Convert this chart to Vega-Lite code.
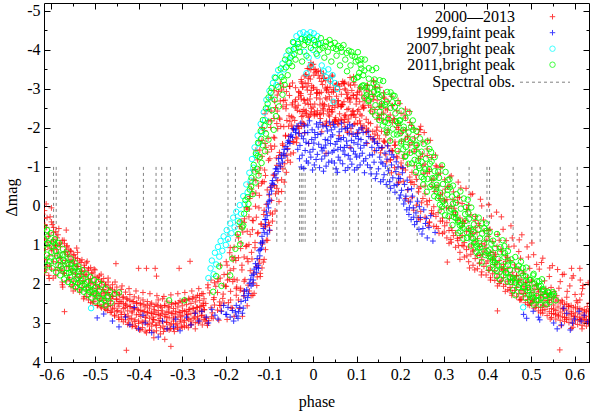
{
"$schema":"https://vega.github.io/schema/vega-lite/v6.json",
"width":545,"height":359,
"autosize":{"type":"none"},
"padding":{"left":44,"top":3,"right":3,"bottom":53},
"background":"white",
"config":{"font":"Liberation Serif","view":{"stroke":null},
"axis":{"grid":false,"domainColor":"black","domainWidth":1,"tickColor":"black","tickWidth":1,"labelFont":"Liberation Serif","labelFontSize":16,"labelColor":"black","titleFont":"Liberation Serif","titleFontSize":16,"titleFontWeight":"normal","titleColor":"black","zindex":1,"labelFlush":false,"labelOverlap":false}},
"resolve":{"axis":{"x":"independent","y":"independent"}},
"datasets":{
"spec":[{"p":-0.595},{"p":-0.589},{"p":-0.535},{"p":-0.491},{"p":-0.473},{"p":-0.428},{"p":-0.389},{"p":-0.36},{"p":-0.347},{"p":-0.327},{"p":-0.195},{"p":-0.178},{"p":-0.083},{"p":-0.064},{"p":-0.031},{"p":-0.027},{"p":-0.023},{"p":-0.018},{"p":0.006},{"p":0.046},{"p":0.053},{"p":0.084},{"p":0.104},{"p":0.134},{"p":0.171},{"p":0.176},{"p":0.192},{"p":0.239},{"p":0.358},{"p":0.399},{"p":0.405},{"p":0.459},{"p":0.502},{"p":0.521},{"p":0.567},{"p":0.606}],
"red":[
{"p":-0.618,"m":0.32},{"p":-0.615,"m":0.85},{"p":-0.619,"m":1.22},{"p":-0.614,"m":1.64},{"p":-0.611,"m":0.55},{"p":-0.608,"m":1.05},{"p":-0.612,"m":1.38},{"p":-0.607,"m":0.78},{"p":-0.603,"m":0.28},{"p":-0.6,"m":0.92},{"p":-0.604,"m":1.52},{"p":-0.599,"m":1.15},{"p":-0.595,"m":0.68},{"p":-0.592,"m":1.28},{"p":-0.596,"m":1.85},{"p":-0.591,"m":1.02},{"p":-0.587,"m":0.82},{"p":-0.584,"m":1.45},{"p":-0.588,"m":1.12},{"p":-0.583,"m":0.58},{"p":-0.579,"m":1.05},{"p":-0.576,"m":1.62},{"p":-0.58,"m":1.32},{"p":-0.575,"m":1.95},{"p":-0.571,"m":0.88},{"p":-0.568,"m":1.4},{"p":-0.572,"m":1.72},{"p":-0.567,"m":1.18},{"p":-0.563,"m":1.25},{"p":-0.56,"m":1.55},{"p":-0.564,"m":1.02},{"p":-0.559,"m":1.88},{"p":-0.555,"m":1.38},{"p":-0.552,"m":1.7},{"p":-0.556,"m":1.15},{"p":-0.551,"m":2.02},{"p":-0.547,"m":1.48},{"p":-0.544,"m":1.82},{"p":-0.548,"m":1.25},{"p":-0.543,"m":1.62},{"p":-0.539,"m":1.55},{"p":-0.536,"m":1.92},{"p":-0.54,"m":1.35},{"p":-0.535,"m":2.15},{"p":-0.531,"m":1.68},{"p":-0.528,"m":1.98},{"p":-0.532,"m":1.45},{"p":-0.527,"m":1.8},{"p":-0.523,"m":1.75},{"p":-0.52,"m":2.08},{"p":-0.524,"m":1.58},{"p":-0.519,"m":2.32},{"p":-0.515,"m":1.88},{"p":-0.512,"m":2.15},{"p":-0.516,"m":1.65},{"p":-0.511,"m":1.98},{"p":-0.507,"m":1.95},{"p":-0.504,"m":2.25},{"p":-0.508,"m":1.72},{"p":-0.503,"m":2.45},{"p":-0.499,"m":2.02},{"p":-0.496,"m":2.3},{"p":-0.5,"m":1.82},{"p":-0.495,"m":2.12},{"p":-0.491,"m":2.08},{"p":-0.488,"m":2.38},{"p":-0.492,"m":1.88},{"p":-0.487,"m":2.58},{"p":-0.483,"m":2.15},{"p":-0.48,"m":2.42},{"p":-0.484,"m":1.95},{"p":-0.479,"m":2.25},{"p":-0.475,"m":2.22},{"p":-0.472,"m":2.5},{"p":-0.476,"m":2.02},{"p":-0.471,"m":2.68},{"p":-0.467,"m":2.28},{"p":-0.464,"m":2.55},{"p":-0.468,"m":2.1},{"p":-0.463,"m":2.38},{"p":-0.459,"m":2.32},{"p":-0.456,"m":2.62},{"p":-0.46,"m":2.15},{"p":-0.455,"m":2.8},{"p":-0.451,"m":2.4},{"p":-0.448,"m":2.68},{"p":-0.452,"m":2.22},{"p":-0.447,"m":2.5},{"p":-0.443,"m":2.45},{"p":-0.44,"m":2.72},{"p":-0.444,"m":2.28},{"p":-0.439,"m":2.9},{"p":-0.435,"m":2.5},{"p":-0.432,"m":2.78},{"p":-0.436,"m":2.35},{"p":-0.431,"m":2.6},{"p":-0.427,"m":2.55},{"p":-0.424,"m":2.82},{"p":-0.428,"m":2.38},{"p":-0.423,"m":3.0},{"p":-0.419,"m":2.58},{"p":-0.416,"m":2.88},{"p":-0.42,"m":2.42},{"p":-0.415,"m":2.7},{"p":-0.411,"m":2.62},{"p":-0.408,"m":2.92},{"p":-0.412,"m":2.45},{"p":-0.407,"m":3.08},{"p":-0.403,"m":2.65},{"p":-0.4,"m":2.95},{"p":-0.404,"m":2.48},{"p":-0.399,"m":2.78},{"p":-0.395,"m":2.68},{"p":-0.392,"m":2.98},{"p":-0.396,"m":2.5},{"p":-0.391,"m":3.12},{"p":-0.387,"m":2.7},{"p":-0.384,"m":2.95},{"p":-0.388,"m":2.52},{"p":-0.383,"m":2.82},{"p":-0.379,"m":2.72},{"p":-0.376,"m":3.02},{"p":-0.38,"m":2.55},{"p":-0.375,"m":3.18},{"p":-0.371,"m":2.75},{"p":-0.368,"m":2.98},{"p":-0.372,"m":2.52},{"p":-0.367,"m":2.85},{"p":-0.363,"m":2.72},{"p":-0.36,"m":3.05},{"p":-0.364,"m":2.58},{"p":-0.359,"m":3.2},{"p":-0.355,"m":2.78},{"p":-0.352,"m":3.0},{"p":-0.356,"m":2.55},{"p":-0.351,"m":2.88},{"p":-0.347,"m":2.75},{"p":-0.344,"m":3.08},{"p":-0.348,"m":2.6},{"p":-0.343,"m":3.22},{"p":-0.339,"m":2.78},{"p":-0.336,"m":2.98},{"p":-0.34,"m":2.55},{"p":-0.335,"m":2.85},{"p":-0.331,"m":2.72},{"p":-0.328,"m":3.05},{"p":-0.332,"m":2.58},{"p":-0.327,"m":3.15},{"p":-0.323,"m":2.75},{"p":-0.32,"m":2.95},{"p":-0.324,"m":2.52},{"p":-0.319,"m":2.85},{"p":-0.315,"m":2.7},{"p":-0.312,"m":3.02},{"p":-0.316,"m":2.5},{"p":-0.311,"m":3.12},{"p":-0.307,"m":2.72},{"p":-0.304,"m":2.92},{"p":-0.308,"m":2.48},{"p":-0.303,"m":2.82},{"p":-0.299,"m":2.68},{"p":-0.296,"m":2.98},{"p":-0.3,"m":2.45},{"p":-0.295,"m":3.1},{"p":-0.291,"m":2.7},{"p":-0.288,"m":2.88},{"p":-0.292,"m":2.42},{"p":-0.287,"m":2.78},{"p":-0.283,"m":2.65},{"p":-0.28,"m":2.95},{"p":-0.284,"m":2.4},{"p":-0.279,"m":3.05},{"p":-0.275,"m":2.62},{"p":-0.272,"m":2.85},{"p":-0.276,"m":2.38},{"p":-0.271,"m":2.75},{"p":-0.267,"m":2.6},{"p":-0.264,"m":2.9},{"p":-0.268,"m":2.35},{"p":-0.263,"m":3.0},{"p":-0.259,"m":2.58},{"p":-0.256,"m":2.8},{"p":-0.26,"m":2.3},{"p":-0.255,"m":2.7},{"p":-0.251,"m":2.55},{"p":-0.248,"m":2.85},{"p":-0.252,"m":2.25},{"p":-0.247,"m":2.95},
{"p":-0.62,"m":0.64},{"p":-0.62,"m":1.37},{"p":-0.62,"m":0.21},{"p":-0.615,"m":1.12},{"p":-0.615,"m":0.48},{"p":-0.615,"m":1.71},{"p":-0.61,"m":0.93},{"p":-0.61,"m":1.55},{"p":-0.61,"m":0.3},{"p":-0.605,"m":1.28},{"p":-0.605,"m":0.72},{"p":-0.605,"m":1.86},{"p":-0.6,"m":0.41},{"p":-0.6,"m":1.09},{"p":-0.6,"m":1.62},{"p":-0.595,"m":1.43},{"p":-0.595,"m":0.87},{"p":-0.595,"m":0.55},{"p":-0.59,"m":1.02},{"p":-0.59,"m":1.79},{"p":-0.59,"m":0.66},{"p":-0.585,"m":1.21},{"p":-0.585,"m":0.74},{"p":-0.585,"m":1.58},{"p":-0.58,"m":0.95},{"p":-0.58,"m":1.66},{"p":-0.58,"m":1.34},{"p":-0.575,"m":1.47},{"p":-0.575,"m":0.88},{"p":-0.575,"m":2.02},{"p":-0.57,"m":1.18},{"p":-0.57,"m":1.73},{"p":-0.57,"m":0.97},{"p":-0.565,"m":1.56},{"p":-0.565,"m":1.05},{"p":-0.565,"m":1.92},{"p":-0.56,"m":1.29},{"p":-0.56,"m":1.84},{"p":-0.56,"m":1.11},{"p":-0.555,"m":1.62},{"p":-0.555,"m":1.17},{"p":-0.555,"m":2.07},{"p":-0.55,"m":1.41},{"p":-0.55,"m":1.93},{"p":-0.55,"m":1.26},{"p":-0.545,"m":1.74},{"p":-0.545,"m":1.33},{"p":-0.545,"m":2.12},{"p":-0.54,"m":1.55},{"p":-0.54,"m":2.01},{"p":-0.54,"m":1.19},{"p":-0.535,"m":1.83},{"p":-0.535,"m":1.41},{"p":-0.535,"m":2.21},{"p":-0.53,"m":1.66},{"p":-0.53,"m":2.09},{"p":-0.53,"m":1.38},{"p":-0.525,"m":1.92},{"p":-0.525,"m":1.52},{"p":-0.525,"m":2.33},{"p":-0.52,"m":1.77},{"p":-0.52,"m":2.18},{"p":-0.52,"m":1.46},{"p":-0.515,"m":2.03},{"p":-0.515,"m":1.61},{"p":-0.515,"m":2.41},{"p":-0.51,"m":1.86},{"p":-0.51,"m":2.27},{"p":-0.51,"m":1.58},{"p":-0.505,"m":2.12},{"p":-0.505,"m":1.72},{"p":-0.505,"m":2.49},{"p":-0.5,"m":1.97},{"p":-0.5,"m":2.36},{"p":-0.5,"m":1.64},{"p":-0.495,"m":2.21},{"p":-0.495,"m":1.83},{"p":-0.495,"m":2.55},{"p":-0.49,"m":2.05},{"p":-0.49,"m":2.43},{"p":-0.49,"m":1.79},{"p":-0.485,"m":2.29},{"p":-0.485,"m":1.94},{"p":-0.485,"m":2.61},{"p":-0.48,"m":2.14},{"p":-0.48,"m":2.52},{"p":-0.48,"m":1.86},{"p":-0.475,"m":2.37},{"p":-0.475,"m":2.03},{"p":-0.475,"m":2.66},{"p":-0.47,"m":2.22},{"p":-0.47,"m":2.58},{"p":-0.47,"m":1.95},{"p":-0.465,"m":2.44},{"p":-0.465,"m":2.11},{"p":-0.465,"m":2.73},{"p":-0.46,"m":2.31},{"p":-0.46,"m":2.64},{"p":-0.46,"m":2.02},{"p":-0.455,"m":2.51},{"p":-0.455,"m":2.19},{"p":-0.455,"m":2.82},{"p":-0.45,"m":2.38},{"p":-0.45,"m":2.71},{"p":-0.45,"m":2.08},{"p":-0.445,"m":2.57},{"p":-0.445,"m":2.26},{"p":-0.445,"m":2.91},{"p":-0.44,"m":2.46},{"p":-0.44,"m":2.78},{"p":-0.44,"m":2.14},{"p":-0.435,"m":2.63},{"p":-0.435,"m":2.33},{"p":-0.435,"m":2.97},{"p":-0.43,"m":2.52},{"p":-0.43,"m":2.84},{"p":-0.43,"m":2.21},{"p":-0.425,"m":2.69},{"p":-0.425,"m":2.39},{"p":-0.425,"m":3.04},{"p":-0.42,"m":2.58},{"p":-0.42,"m":2.9},{"p":-0.42,"m":2.27},{"p":-0.415,"m":2.74},{"p":-0.415,"m":2.45},{"p":-0.415,"m":3.09},{"p":-0.41,"m":2.62},{"p":-0.41,"m":2.96},{"p":-0.41,"m":2.33},{"p":-0.405,"m":2.79},{"p":-0.405,"m":2.5},{"p":-0.405,"m":3.13},{"p":-0.4,"m":2.67},{"p":-0.4,"m":3.01},{"p":-0.4,"m":2.36},{"p":-0.395,"m":2.83},{"p":-0.395,"m":2.54},{"p":-0.395,"m":3.17},{"p":-0.39,"m":2.71},{"p":-0.39,"m":2.98},{"p":-0.39,"m":2.41},{"p":-0.385,"m":2.86},{"p":-0.385,"m":2.59},{"p":-0.385,"m":3.21},{"p":-0.38,"m":2.73},{"p":-0.38,"m":3.04},{"p":-0.38,"m":2.45},{"p":-0.375,"m":2.88},{"p":-0.375,"m":2.62},{"p":-0.375,"m":3.19},{"p":-0.37,"m":2.76},{"p":-0.37,"m":2.49},{"p":-0.37,"m":3.08},{"p":-0.365,"m":2.91},{"p":-0.365,"m":2.66},{"p":-0.365,"m":3.23},{"p":-0.36,"m":2.78},{"p":-0.36,"m":2.52},{"p":-0.36,"m":3.06},{"p":-0.355,"m":2.94},{"p":-0.355,"m":2.68},{"p":-0.355,"m":2.41},{"p":-0.35,"m":2.81},{"p":-0.35,"m":3.12},{"p":-0.35,"m":2.57},{"p":-0.345,"m":2.69},{"p":-0.345,"m":2.96},{"p":-0.345,"m":2.38},{"p":-0.34,"m":2.84},{"p":-0.34,"m":3.15},{"p":-0.34,"m":2.55},{"p":-0.335,"m":2.72},{"p":-0.335,"m":2.99},{"p":-0.335,"m":2.44},{"p":-0.33,"m":2.87},{"p":-0.33,"m":2.61},{"p":-0.33,"m":3.18},{"p":-0.325,"m":2.75},{"p":-0.325,"m":3.02},{"p":-0.325,"m":2.48},{"p":-0.32,"m":2.9},{"p":-0.32,"m":2.63},{"p":-0.32,"m":3.14},{"p":-0.315,"m":2.77},{"p":-0.315,"m":2.51},{"p":-0.315,"m":3.05},{"p":-0.31,"m":2.85},{"p":-0.31,"m":2.59},{"p":-0.31,"m":3.16},{"p":-0.305,"m":2.73},{"p":-0.305,"m":2.97},{"p":-0.305,"m":2.43},{"p":-0.3,"m":2.82},{"p":-0.3,"m":2.56},{"p":-0.3,"m":3.11},{"p":-0.295,"m":2.7},{"p":-0.295,"m":2.94},{"p":-0.295,"m":2.4},{"p":-0.29,"m":2.79},{"p":-0.29,"m":2.53},{"p":-0.29,"m":3.07},{"p":-0.285,"m":2.66},{"p":-0.285,"m":2.91},{"p":-0.285,"m":2.37},{"p":-0.28,"m":2.76},{"p":-0.28,"m":2.5},{"p":-0.28,"m":3.03},{"p":-0.275,"m":2.63},{"p":-0.275,"m":2.88},{"p":-0.275,"m":2.33},{"p":-0.27,"m":2.72},{"p":-0.27,"m":2.46},{"p":-0.27,"m":2.99},{"p":-0.265,"m":2.6},{"p":-0.265,"m":2.84},{"p":-0.265,"m":2.29},{"p":-0.26,"m":2.69},{"p":-0.26,"m":2.42},{"p":-0.26,"m":2.95},{"p":-0.255,"m":2.56},{"p":-0.255,"m":2.81},{"p":-0.255,"m":2.25},{"p":-0.25,"m":2.66},{"p":-0.25,"m":2.38},{"p":-0.25,"m":2.91},
{"p":-0.616,"m":0.12},{"p":-0.606,"m":1.78},{"p":-0.598,"m":0.48},{"p":-0.59,"m":1.65},{"p":-0.582,"m":0.98},{"p":-0.574,"m":2.08},{"p":-0.566,"m":0.62},{"p":-0.558,"m":1.45},{"p":-0.55,"m":2.18},{"p":-0.542,"m":1.08},{"p":-0.534,"m":1.75},{"p":-0.526,"m":2.38},{"p":-0.518,"m":1.42},{"p":-0.51,"m":2.48},{"p":-0.502,"m":1.62},{"p":-0.494,"m":2.55},{"p":-0.486,"m":1.75},{"p":-0.478,"m":2.62},{"p":-0.47,"m":1.85},{"p":-0.462,"m":2.72},{"p":-0.454,"m":1.95},{"p":-0.446,"m":2.85},{"p":-0.438,"m":2.05},{"p":-0.43,"m":2.92},{"p":-0.422,"m":2.12},{"p":-0.414,"m":3.05},{"p":-0.406,"m":2.18},{"p":-0.398,"m":3.18},{"p":-0.39,"m":2.22},{"p":-0.382,"m":3.25},{"p":-0.374,"m":2.25},{"p":-0.366,"m":2.92},{"p":-0.358,"m":2.3},{"p":-0.35,"m":3.28},{"p":-0.342,"m":2.32},{"p":-0.334,"m":3.15},{"p":-0.326,"m":2.28},{"p":-0.318,"m":3.22},{"p":-0.31,"m":2.25},{"p":-0.302,"m":3.08},{"p":-0.294,"m":2.22},{"p":-0.286,"m":3.12},{"p":-0.278,"m":2.18},{"p":-0.27,"m":3.15},{"p":-0.262,"m":2.12},{"p":-0.254,"m":3.05},
{"p":-0.57,"m":2.71},{"p":-0.452,"m":1.48},{"p":-0.4,"m":1.6},{"p":-0.382,"m":1.6},{"p":-0.362,"m":1.6},{"p":-0.359,"m":1.8},{"p":-0.307,"m":1.6},{"p":-0.282,"m":1.42},{"p":-0.428,"m":3.7},{"p":-0.326,"m":3.6},{"p":-0.34,"m":3.42},{"p":-0.365,"m":3.38},{"p":-0.612,"m":-0.05},{"p":-0.6,"m":0.05},
{"p":-0.241,"m":2.02},{"p":-0.246,"m":2.5},{"p":-0.249,"m":2.66},{"p":-0.242,"m":3.06},{"p":-0.243,"m":3.01},{"p":-0.241,"m":2.1},{"p":-0.237,"m":2.23},{"p":-0.234,"m":2.61},{"p":-0.239,"m":2.94},{"p":-0.234,"m":1.9},{"p":-0.227,"m":2.35},{"p":-0.228,"m":2.4},{"p":-0.233,"m":2.84},{"p":-0.229,"m":2.88},{"p":-0.218,"m":1.87},{"p":-0.223,"m":2.06},{"p":-0.226,"m":2.54},{"p":-0.219,"m":2.67},{"p":-0.213,"m":1.85},{"p":-0.218,"m":1.94},{"p":-0.214,"m":2.46},{"p":-0.211,"m":2.55},{"p":-0.216,"m":2.93},{"p":-0.212,"m":1.52},{"p":-0.205,"m":2.03},{"p":-0.206,"m":2.26},{"p":-0.211,"m":2.69},{"p":-0.199,"m":1.43},{"p":-0.196,"m":1.9},{"p":-0.201,"m":2.06},{"p":-0.204,"m":2.49},{"p":-0.197,"m":2.91},{"p":-0.191,"m":1.2},{"p":-0.196,"m":1.75},{"p":-0.192,"m":1.88},{"p":-0.189,"m":2.41},{"p":-0.194,"m":2.48},{"p":-0.19,"m":1.07},{"p":-0.183,"m":1.39},{"p":-0.184,"m":1.94},{"p":-0.189,"m":2.19},{"p":-0.185,"m":2.62},{"p":-0.174,"m":0.74},{"p":-0.179,"m":1.33},{"p":-0.182,"m":1.61},{"p":-0.175,"m":2.08},{"p":-0.176,"m":2.29},{"p":-0.181,"m":2.83},{"p":-0.169,"m":0.53},{"p":-0.166,"m":1.09},{"p":-0.171,"m":1.33},{"p":-0.174,"m":1.9},{"p":-0.167,"m":2.16},{"p":-0.168,"m":2.63},{"p":-0.165,"m":0.39},{"p":-0.161,"m":0.67},{"p":-0.158,"m":1.31},{"p":-0.163,"m":1.52},{"p":-0.166,"m":2.11},{"p":-0.159,"m":2.31},{"p":-0.153,"m":0.04},{"p":-0.158,"m":0.42},{"p":-0.154,"m":1.04},{"p":-0.151,"m":1.35},{"p":-0.156,"m":1.89},{"p":-0.159,"m":2.19},{"p":-0.145,"m":-0.24},{"p":-0.146,"m":0.08},{"p":-0.151,"m":0.65},{"p":-0.147,"m":0.99},{"p":-0.144,"m":1.66},{"p":-0.149,"m":2.03},{"p":-0.145,"m":-0.56},{"p":-0.138,"m":-0.31},{"p":-0.139,"m":0.37},{"p":-0.144,"m":0.73},{"p":-0.14,"m":1.36},{"p":-0.137,"m":1.97},{"p":-0.142,"m":2.3},{"p":-0.138,"m":-0.92},{"p":-0.131,"m":-0.65},{"p":-0.132,"m":0.01},{"p":-0.137,"m":0.38},{"p":-0.133,"m":1.07},{"p":-0.13,"m":1.56},{"p":-0.135,"m":2.24},{"p":-0.131,"m":-1.43},{"p":-0.124,"m":-0.83},{"p":-0.125,"m":-0.51},{"p":-0.13,"m":0.29},{"p":-0.126,"m":0.68},{"p":-0.123,"m":1.38},{"p":-0.128,"m":1.82},{"p":-0.124,"m":-1.67},{"p":-0.117,"m":-1.27},{"p":-0.118,"m":-0.58},{"p":-0.123,"m":-0.27},{"p":-0.119,"m":0.47},{"p":-0.116,"m":0.93},{"p":-0.121,"m":1.73},{"p":-0.117,"m":-2.01},{"p":-0.11,"m":-1.6},{"p":-0.111,"m":-0.92},{"p":-0.116,"m":-0.62},{"p":-0.112,"m":0.11},{"p":-0.109,"m":0.54},{"p":-0.114,"m":1.44},{"p":-0.11,"m":-2.36},{"p":-0.103,"m":-1.73},{"p":-0.104,"m":-1.38},{"p":-0.109,"m":-0.78},{"p":-0.105,"m":-0.41},{"p":-0.102,"m":0.43},{"p":-0.107,"m":0.88},{"p":-0.103,"m":-2.47},{"p":-0.096,"m":-2.18},{"p":-0.097,"m":-1.54},{"p":-0.102,"m":-1.17},{"p":-0.098,"m":-0.48},{"p":-0.095,"m":-0.14},{"p":-0.1,"m":0.5},{"p":-0.096,"m":-2.77},{"p":-0.089,"m":-2.24},{"p":-0.09,"m":-1.76},{"p":-0.095,"m":-1.45},{"p":-0.091,"m":-0.79},{"p":-0.088,"m":-0.52},{"p":-0.093,"m":0.21},{"p":-0.089,"m":-2.96},{"p":-0.082,"m":-2.43},{"p":-0.083,"m":-2.11},{"p":-0.088,"m":-1.53},{"p":-0.084,"m":-1.23},{"p":-0.081,"m":-0.65},{"p":-0.086,"m":-0.31},{"p":-0.082,"m":-2.84},{"p":-0.075,"m":-2.69},{"p":-0.076,"m":-2.22},{"p":-0.081,"m":-1.98},{"p":-0.077,"m":-1.37},{"p":-0.074,"m":-1.02},{"p":-0.079,"m":-0.36},{"p":-0.075,"m":-3.14},{"p":-0.068,"m":-2.7},{"p":-0.069,"m":-2.54},{"p":-0.074,"m":-2.04},{"p":-0.07,"m":-1.59},{"p":-0.067,"m":-1.3},{"p":-0.072,"m":-0.67},{"p":-0.068,"m":-3.05},{"p":-0.061,"m":-2.59},{"p":-0.062,"m":-2.49},{"p":-0.067,"m":-2.03},{"p":-0.063,"m":-1.81},{"p":-0.06,"m":-1.3},{"p":-0.065,"m":-1.08},{"p":-0.061,"m":-2.93},{"p":-0.054,"m":-2.83},{"p":-0.055,"m":-2.31},{"p":-0.06,"m":-2.19},{"p":-0.056,"m":-1.79},{"p":-0.053,"m":-1.65},{"p":-0.058,"m":-1.17},{"p":-0.054,"m":-3.07},{"p":-0.047,"m":-2.64},{"p":-0.048,"m":-2.59},{"p":-0.053,"m":-2.17},{"p":-0.049,"m":-2.07},{"p":-0.046,"m":-1.64},{"p":-0.051,"m":-1.33},{"p":-0.047,"m":-3.15},{"p":-0.04,"m":-2.72},{"p":-0.041,"m":-2.68},{"p":-0.046,"m":-2.26},{"p":-0.042,"m":-2.19},{"p":-0.039,"m":-1.76},{"p":-0.044,"m":-1.64},{"p":-0.04,"m":-3.03},{"p":-0.033,"m":-2.93},{"p":-0.034,"m":-2.58},{"p":-0.039,"m":-2.51},{"p":-0.035,"m":-2.04},{"p":-0.032,"m":-1.99},{"p":-0.037,"m":-1.72},
{"p":-0.231,"m":2.74},{"p":-0.188,"m":2.61},{"p":-0.162,"m":2.83},{"p":-0.252,"m":2.49},{"p":-0.207,"m":2.37},{"p":-0.151,"m":2.56},{"p":-0.219,"m":2.22},{"p":-0.176,"m":2.12},{"p":-0.138,"m":2.29},{"p":-0.226,"m":1.97},{"p":-0.181,"m":1.88},{"p":-0.129,"m":2.04},{"p":-0.204,"m":1.76},{"p":-0.163,"m":1.64},{"p":-0.121,"m":1.81},{"p":-0.197,"m":1.52},{"p":-0.149,"m":1.43},{"p":-0.117,"m":1.59},{"p":-0.186,"m":1.31},{"p":-0.141,"m":1.19},{"p":-0.112,"m":1.37},{"p":-0.181,"m":1.06},{"p":-0.133,"m":0.94},{"p":-0.109,"m":1.12},{"p":-0.171,"m":0.82},{"p":-0.127,"m":0.71},{"p":-0.104,"m":0.88},{"p":-0.163,"m":0.57},{"p":-0.119,"m":0.46},{"p":-0.099,"m":0.63},{"p":-0.157,"m":0.33},{"p":-0.113,"m":0.22},{"p":-0.093,"m":0.39},{"p":-0.151,"m":0.08},{"p":-0.107,"m":-0.04},{"p":-0.087,"m":0.13},{"p":-0.145,"m":-0.19},{"p":-0.101,"m":-0.28},{"p":-0.078,"m":-0.11},{"p":-0.141,"m":-0.43},{"p":-0.094,"m":-0.52},{"p":-0.072,"m":-0.37},{"p":-0.136,"m":-0.68},{"p":-0.089,"m":-0.79},{"p":-0.066,"m":-0.61},{"p":-0.132,"m":-0.93},{"p":-0.083,"m":-1.04},{"p":-0.061,"m":-0.86},{"p":-0.127,"m":-1.18},{"p":-0.076,"m":-1.29},{"p":-0.052,"m":-1.12},{"p":-0.122,"m":-1.43},{"p":-0.069,"m":-1.55},{"p":-0.045,"m":-1.36},{"p":-0.117,"m":-1.68},{"p":-0.063,"m":-1.79},{"p":-0.038,"m":-1.62},{"p":-0.111,"m":-1.93},{"p":-0.056,"m":-2.04},{"p":-0.031,"m":-1.86},{"p":-0.103,"m":-2.18},{"p":-0.049,"m":-2.29},{"p":-0.022,"m":-2.11},{"p":-0.096,"m":-2.43},{"p":-0.041,"m":-2.54},{"p":-0.015,"m":-2.36},{"p":-0.088,"m":-2.68},{"p":-0.033,"m":-2.79},{"p":-0.006,"m":-2.61},{"p":-0.079,"m":-2.93},{"p":-0.024,"m":-3.04},{"p":-0.011,"m":-3.27},{"p":-0.005,"m":-3.49},
{"p":-0.244,"m":2.88},{"p":-0.214,"m":2.55},{"p":-0.171,"m":2.41},{"p":-0.146,"m":2.18},{"p":-0.199,"m":2.06},{"p":-0.158,"m":1.93},{"p":-0.136,"m":1.72},{"p":-0.19,"m":1.65},{"p":-0.124,"m":1.48},{"p":-0.177,"m":1.4},{"p":-0.152,"m":1.02},{"p":-0.116,"m":0.98},{"p":-0.165,"m":0.95},{"p":-0.139,"m":0.61},{"p":-0.111,"m":0.52},{"p":-0.147,"m":0.28},{"p":-0.124,"m":0.05},{"p":-0.098,"m":0.18},{"p":-0.131,"m":-0.33},{"p":-0.112,"m":-0.62},{"p":-0.083,"m":-0.45},{"p":-0.121,"m":-0.97},{"p":-0.099,"m":-1.21},{"p":-0.069,"m":-0.95},{"p":-0.108,"m":-1.5},{"p":-0.088,"m":-1.74},{"p":-0.058,"m":-1.47},{"p":-0.097,"m":-2.01},{"p":-0.077,"m":-2.25},{"p":-0.047,"m":-1.98},{"p":-0.086,"m":-2.52},{"p":-0.064,"m":-2.71},{"p":-0.036,"m":-2.45},{"p":-0.072,"m":-2.97},{"p":-0.053,"m":-3.06},{"p":-0.028,"m":-2.88},
{"p":-0.027,"m":-3.24},{"p":-0.032,"m":-2.91},{"p":-0.028,"m":-2.83},{"p":-0.025,"m":-2.42},{"p":-0.03,"m":-2.42},{"p":-0.033,"m":-2.04},{"p":-0.026,"m":-2.04},{"p":-0.02,"m":-3.33},{"p":-0.025,"m":-3.14},{"p":-0.021,"m":-2.73},{"p":-0.018,"m":-2.63},{"p":-0.023,"m":-2.31},{"p":-0.026,"m":-2.29},{"p":-0.019,"m":-1.87},{"p":-0.013,"m":-3.52},{"p":-0.018,"m":-3.15},{"p":-0.014,"m":-3.05},{"p":-0.011,"m":-2.6},{"p":-0.016,"m":-2.44},{"p":-0.019,"m":-2.08},{"p":-0.005,"m":-3.67},{"p":-0.006,"m":-3.25},{"p":-0.011,"m":-3.14},{"p":-0.007,"m":-2.74},{"p":-0.004,"m":-2.41},{"p":-0.009,"m":-2.3},{"p":-0.005,"m":-3.59},{"p":0.002,"m":-3.5},{"p":0.001,"m":-3.04},{"p":-0.004,"m":-2.96},{"p":0.0,"m":-2.53},{"p":0.003,"m":-2.36},{"p":0.005,"m":-3.5},{"p":0.002,"m":-3.35},{"p":0.009,"m":-2.98},{"p":0.008,"m":-2.89},{"p":0.003,"m":-2.41},{"p":0.007,"m":-2.35},{"p":0.017,"m":-3.45},{"p":0.012,"m":-3.35},{"p":0.009,"m":-2.9},{"p":0.016,"m":-2.74},{"p":0.015,"m":-2.34},{"p":0.01,"m":-2.34},{"p":0.021,"m":-3.33},{"p":0.024,"m":-3.27},{"p":0.019,"m":-2.91},{"p":0.016,"m":-2.59},{"p":0.023,"m":-2.5},{"p":0.022,"m":-2.09},{"p":0.024,"m":-3.4},{"p":0.028,"m":-3.02},{"p":0.031,"m":-2.99},{"p":0.026,"m":-2.6},{"p":0.023,"m":-2.46},{"p":0.03,"m":-2.06},{"p":0.036,"m":-3.28},{"p":0.031,"m":-2.95},{"p":0.035,"m":-2.91},{"p":0.038,"m":-2.47},{"p":0.033,"m":-2.43},{"p":0.03,"m":-2.12},{"p":0.044,"m":-3.35},{"p":0.043,"m":-2.92},{"p":0.038,"m":-2.8},{"p":0.042,"m":-2.41},{"p":0.045,"m":-2.41},{"p":0.04,"m":-2.07},{"p":0.044,"m":-3.32},{"p":0.051,"m":-2.97},{"p":0.05,"m":-2.66},{"p":0.045,"m":-2.57},{"p":0.049,"m":-2.17},{"p":0.052,"m":-2.2},{"p":0.054,"m":-3.12},{"p":0.051,"m":-3.09},{"p":0.058,"m":-2.7},{"p":0.057,"m":-2.56},{"p":0.052,"m":-2.16},{"p":0.056,"m":-2.11},{"p":0.066,"m":-3.13},{"p":0.061,"m":-3.07},{"p":0.058,"m":-2.61},{"p":0.065,"m":-2.55},{"p":0.064,"m":-2.22},{"p":0.059,"m":-2.18},{"p":0.07,"m":-3.14},{"p":0.073,"m":-3.0},{"p":0.068,"m":-2.6},{"p":0.065,"m":-2.59},{"p":0.072,"m":-2.21},{"p":0.071,"m":-2.14},{"p":0.073,"m":-3.17},{"p":0.077,"m":-2.86},{"p":0.08,"m":-2.75},{"p":0.075,"m":-2.33},{"p":0.072,"m":-2.32},{"p":0.079,"m":-1.92},{"p":0.085,"m":-3.29},{"p":0.08,"m":-2.9},{"p":0.084,"m":-2.74},{"p":0.087,"m":-2.32},{"p":0.082,"m":-2.23},{"p":0.079,"m":-1.88},{"p":0.093,"m":-3.31},{"p":0.092,"m":-2.84},{"p":0.087,"m":-2.77},{"p":0.091,"m":-2.42},{"p":0.094,"m":-2.33},{"p":0.089,"m":-1.84},{"p":0.093,"m":-3.17},{"p":0.1,"m":-2.76},{"p":0.099,"m":-2.74},{"p":0.094,"m":-2.35},{"p":0.098,"m":-2.27},{"p":0.101,"m":-1.87},
{"p":-0.023,"m":-3.05},{"p":-0.027,"m":-2.74},{"p":-0.025,"m":-2.15},{"p":-0.016,"m":-3.36},{"p":-0.02,"m":-2.71},{"p":-0.018,"m":-2.38},{"p":-0.009,"m":-3.33},{"p":-0.013,"m":-2.97},{"p":-0.011,"m":-2.27},{"p":-0.002,"m":-3.62},{"p":-0.006,"m":-2.86},{"p":-0.004,"m":-2.5},{"p":0.005,"m":-3.41},{"p":0.001,"m":-3.02},{"p":0.003,"m":-2.31},{"p":0.012,"m":-3.46},{"p":0.008,"m":-2.77},{"p":0.01,"m":-2.44},{"p":0.019,"m":-3.19},{"p":0.015,"m":-2.89},{"p":0.017,"m":-2.24},{"p":0.026,"m":-3.27},{"p":0.022,"m":-2.63},{"p":0.024,"m":-2.36},{"p":0.033,"m":-3.04},{"p":0.029,"m":-2.77},{"p":0.031,"m":-2.17},{"p":0.04,"m":-3.18},{"p":0.036,"m":-2.56},{"p":0.038,"m":-2.3},{"p":0.047,"m":-2.99},{"p":0.043,"m":-2.71},{"p":0.045,"m":-2.13},{"p":0.054,"m":-3.13},{"p":0.05,"m":-2.52},{"p":0.052,"m":-2.26},{"p":0.061,"m":-2.98},{"p":0.057,"m":-2.69},{"p":0.059,"m":-2.09},{"p":0.068,"m":-3.19},{"p":0.064,"m":-2.54},{"p":0.066,"m":-2.2},{"p":0.075,"m":-2.97},{"p":0.071,"m":-2.67},{"p":0.073,"m":-2.03},{"p":0.082,"m":-3.12},{"p":0.078,"m":-2.47},{"p":0.08,"m":-2.15},{"p":0.089,"m":-2.96},{"p":0.085,"m":-2.66},{"p":0.087,"m":-1.98},{"p":0.096,"m":-3.1},{"p":0.092,"m":-2.44},{"p":0.094,"m":-2.09},
{"p":-0.027,"m":-3.18},{"p":-0.021,"m":-2.47},{"p":-0.017,"m":-3.36},{"p":-0.013,"m":-2.71},{"p":-0.009,"m":-3.52},{"p":-0.006,"m":-2.34},{"p":-0.003,"m":-3.08},{"p":0.001,"m":-3.63},{"p":0.004,"m":-2.61},{"p":0.008,"m":-3.44},{"p":0.011,"m":-2.89},{"p":0.015,"m":-3.27},{"p":0.018,"m":-2.38},{"p":0.022,"m":-3.11},{"p":0.025,"m":-2.56},{"p":0.029,"m":-3.21},{"p":0.032,"m":-2.74},{"p":0.036,"m":-2.33},{"p":0.039,"m":-3.04},{"p":0.043,"m":-2.47},{"p":0.047,"m":-2.92},{"p":0.05,"m":-2.21},{"p":0.054,"m":-2.81},{"p":0.058,"m":-3.12},{"p":0.061,"m":-2.36},{"p":0.065,"m":-2.86},{"p":0.068,"m":-2.59},{"p":0.072,"m":-3.14},{"p":0.075,"m":-2.28},{"p":0.079,"m":-2.77},{"p":0.082,"m":-2.49},{"p":0.086,"m":-3.09},{"p":0.089,"m":-2.34},{"p":0.093,"m":-2.83},{"p":0.096,"m":-2.11},{"p":0.099,"m":-2.61},
{"p":-0.01,"m":-1.6},{"p":0.03,"m":-1.35},{"p":0.06,"m":-1.8},{"p":0.085,"m":-1.5},{"p":0.02,"m":-1.9},
{"p":0.106,"m":-2.94},{"p":0.101,"m":-2.85},{"p":0.105,"m":-2.47},{"p":0.108,"m":-2.35},{"p":0.103,"m":-1.87},{"p":0.108,"m":-3.0},{"p":0.115,"m":-2.58},{"p":0.114,"m":-2.54},{"p":0.109,"m":-2.1},{"p":0.113,"m":-2.0},{"p":0.124,"m":-3.09},{"p":0.119,"m":-2.69},{"p":0.116,"m":-2.5},{"p":0.123,"m":-1.99},{"p":0.122,"m":-1.9},{"p":0.125,"m":-3.09},{"p":0.129,"m":-2.94},{"p":0.132,"m":-2.43},{"p":0.127,"m":-2.14},{"p":0.124,"m":-1.6},{"p":0.139,"m":-3.21},{"p":0.138,"m":-2.73},{"p":0.133,"m":-2.53},{"p":0.137,"m":-1.91},{"p":0.14,"m":-1.72},{"p":0.143,"m":-3.02},{"p":0.14,"m":-2.81},{"p":0.147,"m":-2.22},{"p":0.146,"m":-1.94},{"p":0.141,"m":-1.41},{"p":0.153,"m":-3.04},{"p":0.156,"m":-2.53},{"p":0.151,"m":-2.32},{"p":0.148,"m":-1.81},{"p":0.155,"m":-1.36},{"p":0.162,"m":-2.9},{"p":0.157,"m":-2.35},{"p":0.161,"m":-2.2},{"p":0.164,"m":-1.66},{"p":0.159,"m":-1.49},{"p":0.164,"m":-2.76},{"p":0.171,"m":-2.46},{"p":0.17,"m":-1.88},{"p":0.165,"m":-1.63},{"p":0.169,"m":-1.13},{"p":0.18,"m":-2.81},{"p":0.175,"m":-2.19},{"p":0.172,"m":-1.95},{"p":0.179,"m":-1.42},{"p":0.178,"m":-1.18},{"p":0.181,"m":-2.57},{"p":0.185,"m":-2.24},{"p":0.188,"m":-1.64},{"p":0.183,"m":-1.41},{"p":0.18,"m":-0.85},{"p":0.195,"m":-2.7},{"p":0.194,"m":-2.11},{"p":0.189,"m":-1.56},{"p":0.193,"m":-1.23},{"p":0.196,"m":-0.59},{"p":0.199,"m":-2.62},{"p":0.196,"m":-1.96},{"p":0.203,"m":-1.66},{"p":0.202,"m":-1.0},{"p":0.197,"m":-0.61},{"p":0.211,"m":-2.33},{"p":0.214,"m":-1.95},{"p":0.209,"m":-1.31},{"p":0.206,"m":-0.96},{"p":0.213,"m":-0.19},{"p":0.222,"m":-2.42},{"p":0.217,"m":-1.77},{"p":0.221,"m":-1.38},{"p":0.224,"m":-0.6},{"p":0.219,"m":-0.12},{"p":0.226,"m":-2.06},{"p":0.233,"m":-1.74},{"p":0.232,"m":-1.03},{"p":0.227,"m":-0.62},{"p":0.231,"m":0.11},{"p":0.244,"m":-1.96},{"p":0.239,"m":-1.55},{"p":0.236,"m":-0.79},{"p":0.243,"m":-0.45},{"p":0.242,"m":0.31},{"p":0.247,"m":-2.04},{"p":0.251,"m":-1.33},{"p":0.254,"m":-0.84},{"p":0.249,"m":-0.08},{"p":0.246,"m":0.35},{"p":0.263,"m":-1.68},{"p":0.262,"m":-1.29},{"p":0.257,"m":-0.51},{"p":0.261,"m":-0.12},{"p":0.264,"m":0.51},{"p":0.269,"m":-1.68},{"p":0.266,"m":-0.94},{"p":0.273,"m":-0.5},{"p":0.272,"m":0.19},{"p":0.267,"m":0.43},{"p":0.281,"m":-1.3},{"p":0.284,"m":-1.0},{"p":0.279,"m":-0.37},{"p":0.276,"m":0.21},{"p":0.283,"m":0.53},{"p":0.292,"m":-0.99},{"p":0.287,"m":-0.8},{"p":0.291,"m":-0.19},{"p":0.294,"m":0.08},{"p":0.289,"m":0.7},{"p":0.296,"m":-1.01},{"p":0.303,"m":-0.43},{"p":0.302,"m":-0.15},{"p":0.297,"m":0.39},{"p":0.301,"m":0.67},{"p":0.314,"m":-0.74},{"p":0.309,"m":-0.49},{"p":0.306,"m":0.05},{"p":0.313,"m":0.32},{"p":0.312,"m":0.96},{"p":0.317,"m":-0.77},{"p":0.321,"m":-0.16},{"p":0.324,"m":0.06},{"p":0.319,"m":0.63},{"p":0.316,"m":0.86},{"p":0.333,"m":-0.61},{"p":0.332,"m":-0.09},{"p":0.327,"m":0.23},{"p":0.331,"m":0.83},{"p":0.334,"m":1.02},{"p":0.339,"m":-0.46},{"p":0.336,"m":-0.22},{"p":0.343,"m":0.4},{"p":0.342,"m":0.76},{"p":0.337,"m":1.37},{"p":0.351,"m":-0.45},{"p":0.354,"m":0.09},{"p":0.349,"m":0.37},{"p":0.346,"m":1.03},{"p":0.353,"m":1.28},{"p":0.362,"m":-0.29},{"p":0.357,"m":-0.01},{"p":0.361,"m":0.66},{"p":0.364,"m":1.0},{"p":0.359,"m":1.59},{"p":0.366,"m":-0.31},{"p":0.373,"m":0.27},{"p":0.372,"m":0.56},{"p":0.367,"m":1.13},{"p":0.371,"m":1.64},{"p":0.384,"m":-0.17},{"p":0.379,"m":0.45},{"p":0.376,"m":0.68},{"p":0.383,"m":1.26},{"p":0.382,"m":1.48},{"p":0.387,"m":0.0},{"p":0.391,"m":0.36},{"p":0.394,"m":1.0},{"p":0.389,"m":1.25},{"p":0.386,"m":1.77},{"p":0.403,"m":-0.03},{"p":0.402,"m":0.63},{"p":0.397,"m":0.88},{"p":0.401,"m":1.41},{"p":0.404,"m":1.65},{"p":0.409,"m":0.26},{"p":0.406,"m":0.6},{"p":0.413,"m":1.19},{"p":0.412,"m":1.36},{"p":0.407,"m":1.9},{"p":0.421,"m":0.16},{"p":0.424,"m":0.73},{"p":0.419,"m":1.24},{"p":0.416,"m":1.5},{"p":0.423,"m":2.05},{"p":0.432,"m":0.28},{"p":0.427,"m":0.88},{"p":0.431,"m":1.11},{"p":0.434,"m":1.64},{"p":0.429,"m":1.94},{"p":0.436,"m":0.6},{"p":0.443,"m":0.89},{"p":0.442,"m":1.42},{"p":0.437,"m":1.61},{"p":0.441,"m":2.19},{"p":0.454,"m":0.51},{"p":0.449,"m":1.05},{"p":0.446,"m":1.32},{"p":0.453,"m":1.9},{"p":0.452,"m":2.16},{"p":0.457,"m":0.82},{"p":0.461,"m":1.03},{"p":0.464,"m":1.6},{"p":0.459,"m":1.8},{"p":0.456,"m":2.29},{"p":0.473,"m":0.87},{"p":0.472,"m":1.17},{"p":0.467,"m":1.78},{"p":0.471,"m":1.92},{"p":0.474,"m":2.41},{"p":0.479,"m":0.74},{"p":0.476,"m":1.34},{"p":0.483,"m":1.69},{"p":0.482,"m":2.24},{"p":0.477,"m":2.39},{"p":0.491,"m":1.05},{"p":0.494,"m":1.31},{"p":0.489,"m":1.96},{"p":0.486,"m":2.13},{"p":0.493,"m":2.53},{"p":0.502,"m":0.95},{"p":0.497,"m":1.6},{"p":0.501,"m":1.9},{"p":0.504,"m":2.42},{"p":0.499,"m":2.49},{"p":0.506,"m":1.25},{"p":0.513,"m":1.5},{"p":0.512,"m":2.01},{"p":0.507,"m":2.44},{"p":0.511,"m":2.6},{"p":0.524,"m":1.45},{"p":0.519,"m":1.62},{"p":0.516,"m":2.14},{"p":0.523,"m":2.28},{"p":0.522,"m":2.74},{"p":0.527,"m":1.34},{"p":0.531,"m":1.92},{"p":0.534,"m":2.12},{"p":0.529,"m":2.55},{"p":0.526,"m":2.67},{"p":0.543,"m":1.59},{"p":0.542,"m":1.81},{"p":0.537,"m":2.25},{"p":0.541,"m":2.42},{"p":0.544,"m":2.9},{"p":0.549,"m":1.53},{"p":0.546,"m":2.09},{"p":0.553,"m":2.19},{"p":0.552,"m":2.65},{"p":0.547,"m":2.76},{"p":0.561,"m":1.63},{"p":0.564,"m":2.11},{"p":0.559,"m":2.3},{"p":0.556,"m":2.78},{"p":0.563,"m":2.82},{"p":0.572,"m":1.76},{"p":0.567,"m":1.94},{"p":0.571,"m":2.42},{"p":0.574,"m":2.64},{"p":0.569,"m":3.07},{"p":0.576,"m":1.75},{"p":0.583,"m":2.19},{"p":0.582,"m":2.34},{"p":0.577,"m":2.86},{"p":0.581,"m":2.91},{"p":0.594,"m":1.85},{"p":0.589,"m":2.05},{"p":0.586,"m":2.58},{"p":0.593,"m":2.76},{"p":0.592,"m":3.14},{"p":0.597,"m":1.79},{"p":0.601,"m":2.27},{"p":0.604,"m":2.43},{"p":0.599,"m":2.83},{"p":0.596,"m":3.11},{"p":0.613,"m":1.9},{"p":0.612,"m":2.41},{"p":0.607,"m":2.48},{"p":0.611,"m":2.91},{"p":0.614,"m":2.91},{"p":0.619,"m":2.04},{"p":0.616,"m":2.26},{"p":0.623,"m":2.74},{"p":0.622,"m":2.85},{"p":0.617,"m":3.15},{"p":0.631,"m":1.97},{"p":0.634,"m":2.49},{"p":0.629,"m":2.58},{"p":0.626,"m":2.93},{"p":0.633,"m":2.97},
{"p":0.102,"m":-2.43},{"p":0.102,"m":-2.91},{"p":0.102,"m":-2.12},{"p":0.107,"m":-2.67},{"p":0.107,"m":-2.18},{"p":0.107,"m":-3.04},{"p":0.112,"m":-2.31},{"p":0.112,"m":-2.84},{"p":0.112,"m":-1.97},{"p":0.117,"m":-2.76},{"p":0.117,"m":-2.05},{"p":0.117,"m":-2.52},{"p":0.122,"m":-2.22},{"p":0.122,"m":-2.97},{"p":0.122,"m":-1.88},{"p":0.127,"m":-2.58},{"p":0.127,"m":-1.94},{"p":0.127,"m":-2.81},{"p":0.132,"m":-2.11},{"p":0.132,"m":-2.69},{"p":0.132,"m":-1.77},{"p":0.137,"m":-2.86},{"p":0.137,"m":-2.36},{"p":0.137,"m":-1.69},{"p":0.142,"m":-2.47},{"p":0.142,"m":-1.84},{"p":0.142,"m":-3.05},{"p":0.147,"m":-2.02},{"p":0.147,"m":-2.71},{"p":0.147,"m":-1.61},{"p":0.152,"m":-2.55},{"p":0.152,"m":-1.72},{"p":0.152,"m":-2.24},{"p":0.157,"m":-1.91},{"p":0.157,"m":-2.63},{"p":0.157,"m":-1.48},{"p":0.162,"m":-2.38},{"p":0.162,"m":-1.66},{"p":0.162,"m":-2.79},{"p":0.167,"m":-1.82},{"p":0.167,"m":-2.49},{"p":0.167,"m":-1.31},{"p":0.172,"m":-2.27},{"p":0.172,"m":-1.54},{"p":0.172,"m":-2.68},{"p":0.177,"m":-1.69},{"p":0.177,"m":-2.33},{"p":0.177,"m":-1.18},{"p":0.182,"m":-2.14},{"p":0.182,"m":-1.41},{"p":0.182,"m":-2.57},{"p":0.187,"m":-1.55},{"p":0.187,"m":-2.21},{"p":0.187,"m":-0.98},{"p":0.192,"m":-2.01},{"p":0.192,"m":-1.27},{"p":0.192,"m":-2.44},{"p":0.197,"m":-1.39},{"p":0.197,"m":-2.06},{"p":0.197,"m":-0.81},{"p":0.202,"m":-1.86},{"p":0.202,"m":-1.1},{"p":0.202,"m":-2.37},{"p":0.207,"m":-1.22},{"p":0.207,"m":-1.93},{"p":0.207,"m":-0.63},{"p":0.212,"m":-1.71},{"p":0.212,"m":-0.92},{"p":0.212,"m":-2.25},{"p":0.217,"m":-1.05},{"p":0.217,"m":-1.79},{"p":0.217,"m":-0.41},{"p":0.222,"m":-1.56},{"p":0.222,"m":-0.74},{"p":0.222,"m":-2.14},{"p":0.227,"m":-0.86},{"p":0.227,"m":-1.62},{"p":0.227,"m":-0.21},{"p":0.232,"m":-1.39},{"p":0.232,"m":-0.55},{"p":0.232,"m":-1.97},{"p":0.237,"m":-0.68},{"p":0.237,"m":-1.44},{"p":0.237,"m":-0.02},{"p":0.242,"m":-1.21},{"p":0.242,"m":-0.36},{"p":0.242,"m":-1.83},{"p":0.247,"m":-0.49},{"p":0.247,"m":-1.26},{"p":0.247,"m":0.14},{"p":0.252,"m":-1.03},{"p":0.252,"m":-0.19},{"p":0.252,"m":-1.64},{"p":0.257,"m":-0.31},{"p":0.257,"m":-1.07},{"p":0.257,"m":0.29},{"p":0.262,"m":-0.84},{"p":0.262,"m":-0.03},{"p":0.262,"m":-1.46},{"p":0.267,"m":-0.14},{"p":0.267,"m":-0.88},{"p":0.267,"m":0.41},{"p":0.272,"m":-0.66},{"p":0.272,"m":0.12},{"p":0.272,"m":-1.24},{"p":0.277,"m":0.02},{"p":0.277,"m":-0.69},{"p":0.277,"m":0.52},{"p":0.282,"m":-0.47},{"p":0.282,"m":0.27},{"p":0.282,"m":-1.03},{"p":0.287,"m":0.17},{"p":0.287,"m":-0.51},{"p":0.287,"m":0.58},{"p":0.292,"m":-0.29},{"p":0.292,"m":0.39},{"p":0.292,"m":-0.84},{"p":0.297,"m":0.31},{"p":0.297,"m":-0.33},{"p":0.297,"m":0.71},{"p":0.302,"m":-0.12},{"p":0.302,"m":0.51},{"p":0.302,"m":-0.67},{"p":0.307,"m":0.43},{"p":0.307,"m":-0.16},{"p":0.307,"m":0.82},{"p":0.312,"m":0.06},{"p":0.312,"m":0.63},{"p":0.312,"m":-0.51},{"p":0.317,"m":0.56},{"p":0.317,"m":0.01},{"p":0.317,"m":0.93},{"p":0.322,"m":0.22},{"p":0.322,"m":0.76},{"p":0.322,"m":-0.36},{"p":0.327,"m":0.69},{"p":0.327,"m":0.16},{"p":0.327,"m":1.06},{"p":0.332,"m":0.37},{"p":0.332,"m":0.89},{"p":0.332,"m":-0.21},{"p":0.337,"m":0.81},{"p":0.337,"m":0.31},{"p":0.337,"m":1.19},{"p":0.342,"m":0.52},{"p":0.342,"m":1.01},{"p":0.342,"m":-0.06},{"p":0.347,"m":0.94},{"p":0.347,"m":0.45},{"p":0.347,"m":1.31},{"p":0.352,"m":0.66},{"p":0.352,"m":1.12},{"p":0.352,"m":0.09},{"p":0.357,"m":1.05},{"p":0.357,"m":0.58},{"p":0.357,"m":1.43},{"p":0.362,"m":0.79},{"p":0.362,"m":1.24},{"p":0.362,"m":0.23},{"p":0.367,"m":1.16},{"p":0.367,"m":0.71},{"p":0.367,"m":1.52},{"p":0.372,"m":0.92},{"p":0.372,"m":1.35},{"p":0.372,"m":0.37},{"p":0.377,"m":1.27},{"p":0.377,"m":0.84},{"p":0.377,"m":1.61},{"p":0.382,"m":1.04},{"p":0.382,"m":1.46},{"p":0.382,"m":0.51},{"p":0.387,"m":1.37},{"p":0.387,"m":0.96},{"p":0.387,"m":1.69},{"p":0.392,"m":1.16},{"p":0.392,"m":1.55},{"p":0.392,"m":0.64},{"p":0.397,"m":1.47},{"p":0.397,"m":1.08},{"p":0.397,"m":1.77},{"p":0.402,"m":1.27},{"p":0.402,"m":1.65},{"p":0.402,"m":0.78},{"p":0.407,"m":1.57},{"p":0.407,"m":1.19},{"p":0.407,"m":1.84},{"p":0.412,"m":1.38},{"p":0.412,"m":1.74},{"p":0.412,"m":0.91},{"p":0.417,"m":1.66},{"p":0.417,"m":1.29},{"p":0.417,"m":1.91},{"p":0.422,"m":1.49},{"p":0.422,"m":1.83},{"p":0.422,"m":1.04},{"p":0.427,"m":1.75},{"p":0.427,"m":1.4},{"p":0.427,"m":1.99},{"p":0.432,"m":1.59},{"p":0.432,"m":1.92},{"p":0.432,"m":1.16},{"p":0.437,"m":1.84},{"p":0.437,"m":1.5},{"p":0.437,"m":2.06},{"p":0.442,"m":1.69},{"p":0.442,"m":2.01},{"p":0.442,"m":1.28},{"p":0.447,"m":1.93},{"p":0.447,"m":1.6},{"p":0.447,"m":2.15},{"p":0.452,"m":1.79},{"p":0.452,"m":2.09},{"p":0.452,"m":1.4},{"p":0.457,"m":2.01},{"p":0.457,"m":1.7},{"p":0.457,"m":2.24},{"p":0.462,"m":1.88},{"p":0.462,"m":2.17},{"p":0.462,"m":1.51},{"p":0.467,"m":2.09},{"p":0.467,"m":1.79},{"p":0.467,"m":2.33},{"p":0.472,"m":1.97},{"p":0.472,"m":2.25},{"p":0.472,"m":1.62},{"p":0.477,"m":2.17},{"p":0.477,"m":1.88},{"p":0.477,"m":2.41},{"p":0.482,"m":2.06},{"p":0.482,"m":2.33},{"p":0.482,"m":1.73},{"p":0.487,"m":2.25},{"p":0.487,"m":1.97},{"p":0.487,"m":2.48},{"p":0.492,"m":2.14},{"p":0.492,"m":2.4},{"p":0.492,"m":1.83},{"p":0.497,"m":2.32},{"p":0.497,"m":2.05},{"p":0.497,"m":2.55},{"p":0.502,"m":2.22},{"p":0.502,"m":2.47},{"p":0.502,"m":1.94},{"p":0.507,"m":2.39},{"p":0.507,"m":2.13},{"p":0.507,"m":2.62},{"p":0.512,"m":2.29},{"p":0.512,"m":2.54},{"p":0.512,"m":2.04},{"p":0.517,"m":2.46},{"p":0.517,"m":2.2},{"p":0.517,"m":2.69},{"p":0.522,"m":2.36},{"p":0.522,"m":2.6},{"p":0.522,"m":2.13},{"p":0.527,"m":2.52},{"p":0.527,"m":2.27},{"p":0.527,"m":2.75},{"p":0.532,"m":2.42},{"p":0.532,"m":2.66},{"p":0.532,"m":2.21},{"p":0.537,"m":2.58},{"p":0.537,"m":2.33},{"p":0.537,"m":2.81},{"p":0.542,"m":2.48},{"p":0.542,"m":2.71},{"p":0.542,"m":2.28},{"p":0.547,"m":2.63},{"p":0.547,"m":2.39},{"p":0.547,"m":2.86},{"p":0.552,"m":2.54},{"p":0.552,"m":2.76},{"p":0.552,"m":2.35},{"p":0.557,"m":2.68},{"p":0.557,"m":2.44},{"p":0.557,"m":2.9},{"p":0.562,"m":2.59},{"p":0.562,"m":2.8},{"p":0.562,"m":2.41},{"p":0.567,"m":2.72},{"p":0.567,"m":2.49},{"p":0.567,"m":2.93},{"p":0.572,"m":2.63},{"p":0.572,"m":2.84},{"p":0.572,"m":2.46},{"p":0.577,"m":2.76},{"p":0.577,"m":2.53},{"p":0.577,"m":2.96},{"p":0.582,"m":2.67},{"p":0.582,"m":2.87},{"p":0.582,"m":2.51},{"p":0.587,"m":2.79},{"p":0.587,"m":2.57},{"p":0.587,"m":2.99},{"p":0.592,"m":2.71},{"p":0.592,"m":2.9},{"p":0.592,"m":2.55},{"p":0.597,"m":2.82},{"p":0.597,"m":2.61},{"p":0.597,"m":3.01},{"p":0.602,"m":2.74},{"p":0.602,"m":2.93},{"p":0.602,"m":2.59},{"p":0.607,"m":2.85},{"p":0.607,"m":2.64},{"p":0.607,"m":3.04},{"p":0.612,"m":2.77},{"p":0.612,"m":2.95},{"p":0.612,"m":2.63},{"p":0.617,"m":2.88},{"p":0.617,"m":2.67},{"p":0.617,"m":3.06},{"p":0.622,"m":2.8},{"p":0.622,"m":2.98},{"p":0.622,"m":2.66},{"p":0.627,"m":2.91},{"p":0.627,"m":2.7},{"p":0.627,"m":3.08},{"p":0.632,"m":2.83},{"p":0.632,"m":3.0},{"p":0.632,"m":2.69},
{"p":0.139,"m":-3.18},{"p":0.212,"m":-2.48},{"p":0.246,"m":-1.95},{"p":0.255,"m":-1.88},{"p":0.308,"m":1.44},{"p":0.423,"m":2.69},{"p":0.566,"m":3.69},{"p":0.593,"m":1.6},{"p":0.612,"m":1.6},{"p":0.618,"m":2.12}
],
"blue":[
{"p":-0.495,"m":2.87},{"p":-0.48,"m":2.77},{"p":-0.46,"m":2.95},{"p":-0.445,"m":3.1},{"p":-0.43,"m":2.85},{"p":-0.42,"m":3.05},{"p":-0.41,"m":2.6},{"p":-0.4,"m":3.15},{"p":-0.39,"m":2.8},{"p":-0.385,"m":3.0},{"p":-0.37,"m":3.25},{"p":-0.355,"m":3.36},{"p":-0.345,"m":2.95},{"p":-0.335,"m":3.15},{"p":-0.32,"m":3.1},{"p":-0.315,"m":2.9},{"p":-0.305,"m":3.2},{"p":-0.29,"m":2.85},{"p":-0.28,"m":3.05},{"p":-0.27,"m":2.75},{"p":-0.262,"m":2.95},{"p":-0.255,"m":2.7},{"p":-0.245,"m":2.85},{"p":-0.24,"m":3.0},{"p":-0.232,"m":2.65},{"p":-0.225,"m":2.8},{"p":-0.218,"m":2.9},{"p":-0.21,"m":2.7},{"p":-0.205,"m":2.55},{"p":-0.198,"m":2.78},
{"p":-0.2,"m":2.78},{"p":-0.195,"m":2.6},{"p":-0.185,"m":2.68},{"p":-0.175,"m":2.82},{"p":-0.162,"m":2.75},{"p":-0.15,"m":2.35},{"p":-0.138,"m":2.0},{"p":-0.125,"m":1.6},{"p":-0.105,"m":0.72},{"p":-0.1,"m":0.62},
{"p":-0.19,"m":2.85},{"p":-0.182,"m":2.95},{"p":-0.178,"m":2.72},{"p":-0.172,"m":2.88},{"p":-0.168,"m":2.6},{"p":-0.165,"m":2.45},{"p":-0.16,"m":2.62},{"p":-0.158,"m":2.3},{"p":-0.155,"m":2.42},{"p":-0.152,"m":2.15},{"p":-0.148,"m":2.25},{"p":-0.146,"m":1.98},{"p":-0.142,"m":2.05},{"p":-0.14,"m":1.78},{"p":-0.137,"m":1.9},{"p":-0.135,"m":1.62},{"p":-0.132,"m":1.48},{"p":-0.13,"m":1.7},{"p":-0.128,"m":1.35},{"p":-0.126,"m":1.52},{"p":-0.124,"m":1.15},{"p":-0.122,"m":1.28},{"p":-0.12,"m":0.95},{"p":-0.118,"m":1.08},{"p":-0.117,"m":0.78},{"p":-0.115,"m":0.9},{"p":-0.114,"m":0.58},{"p":-0.112,"m":0.68},{"p":-0.11,"m":0.35},{"p":-0.109,"m":0.48},{"p":-0.107,"m":0.15},{"p":-0.105,"m":0.25},{"p":-0.104,"m":-0.05},{"p":-0.102,"m":0.05},{"p":-0.1,"m":-0.3},{"p":-0.099,"m":-0.15},{"p":-0.097,"m":-0.48},{"p":-0.095,"m":-0.38},{"p":-0.093,"m":-0.65},{"p":-0.09,"m":-0.55},{"p":-0.088,"m":-0.82},{"p":-0.085,"m":-0.72},{"p":-0.083,"m":-0.95},{"p":-0.08,"m":-0.88},{"p":-0.078,"m":-1.08},{"p":-0.075,"m":-1.0},{"p":-0.072,"m":-1.22},{"p":-0.07,"m":-1.12},{"p":-0.067,"m":-1.35},{"p":-0.064,"m":-1.28},{"p":-0.062,"m":-1.52},{"p":-0.059,"m":-1.45},{"p":-0.056,"m":-1.68},{"p":-0.053,"m":-1.6},{"p":-0.05,"m":-1.82},{"p":-0.047,"m":-1.75},{"p":-0.044,"m":-1.95},{"p":-0.04,"m":-1.88},{"p":-0.037,"m":-2.05},
{"p":-0.176,"m":2.55},{"p":-0.171,"m":2.71},{"p":-0.157,"m":2.18},{"p":-0.143,"m":1.88},{"p":-0.136,"m":1.75},{"p":-0.129,"m":1.58},{"p":-0.121,"m":1.12},{"p":-0.116,"m":0.95},{"p":-0.108,"m":0.35},{"p":-0.101,"m":-0.12},{"p":-0.094,"m":-0.58},{"p":-0.086,"m":-0.95},{"p":-0.079,"m":-1.21},{"p":-0.073,"m":-1.31},{"p":-0.066,"m":-1.45},{"p":-0.058,"m":-1.63},{"p":-0.052,"m":-1.78},{"p":-0.045,"m":-1.98},{"p":-0.039,"m":-1.95},
{"p":-0.033,"m":-1.85},{"p":-0.03,"m":-1.55},{"p":-0.028,"m":-2.12},{"p":-0.025,"m":-1.3},{"p":-0.022,"m":-1.72},{"p":-0.02,"m":-2.05},{"p":-0.018,"m":-1.42},{"p":-0.015,"m":-1.15},{"p":-0.012,"m":-1.88},{"p":-0.01,"m":-1.6},{"p":-0.008,"m":-2.18},{"p":-0.005,"m":-1.25},{"p":-0.002,"m":-1.95},{"p":0.0,"m":-1.45},{"p":0.003,"m":-1.05},{"p":0.005,"m":-1.75},{"p":0.008,"m":-2.1},{"p":0.01,"m":-1.32},{"p":0.013,"m":-1.58},{"p":0.015,"m":-0.98},{"p":0.018,"m":-1.85},{"p":0.02,"m":-1.2},{"p":0.023,"m":-2.05},{"p":0.025,"m":-1.48},{"p":0.028,"m":-1.7},{"p":0.03,"m":-1.02},{"p":0.033,"m":-1.92},{"p":0.035,"m":-1.35},{"p":0.038,"m":-2.15},{"p":0.04,"m":-1.6},{"p":0.043,"m":-1.15},{"p":0.045,"m":-1.82},{"p":0.048,"m":-1.42},{"p":0.05,"m":-2.02},{"p":0.053,"m":-0.95},{"p":0.055,"m":-1.65},{"p":0.058,"m":-1.25},{"p":0.06,"m":-1.9},{"p":0.063,"m":-1.5},{"p":0.065,"m":-2.12},{"p":0.068,"m":-1.08},{"p":0.07,"m":-1.75},{"p":0.073,"m":-1.32},{"p":0.075,"m":-1.98},{"p":0.078,"m":-1.55},{"p":0.08,"m":-0.98},{"p":0.083,"m":-1.85},{"p":0.085,"m":-1.2},{"p":0.088,"m":-1.68},{"p":0.09,"m":-2.05},{"p":0.093,"m":-1.4},{"p":0.095,"m":-0.92},{"p":0.098,"m":-1.78},{"p":0.1,"m":-1.25},{"p":0.103,"m":-1.58},{"p":0.105,"m":-1.95},{"p":0.108,"m":-1.05},{"p":0.11,"m":-1.7},{"p":0.113,"m":-1.35},{"p":0.115,"m":-1.88},{"p":0.118,"m":-0.85},
{"p":-0.035,"m":-1.45},{"p":-0.027,"m":-1.0},{"p":-0.019,"m":-1.88},{"p":-0.011,"m":-1.1},{"p":-0.003,"m":-1.7},{"p":0.004,"m":-1.88},{"p":0.012,"m":-2.02},{"p":0.019,"m":-1.5},{"p":0.027,"m":-1.28},{"p":0.034,"m":-1.68},{"p":0.042,"m":-1.95},{"p":0.049,"m":-1.1},{"p":0.057,"m":-1.45},{"p":0.064,"m":-1.7},{"p":0.072,"m":-1.5},{"p":0.079,"m":-2.0},{"p":0.087,"m":-1.48},{"p":0.094,"m":-1.62},{"p":0.102,"m":-1.85},{"p":0.109,"m":-1.48},{"p":0.116,"m":-1.15},
{"p":-0.031,"m":-1.21},{"p":-0.026,"m":-1.79},{"p":-0.021,"m":-0.96},{"p":-0.016,"m":-1.63},{"p":-0.012,"m":-2.07},{"p":-0.007,"m":-1.38},{"p":-0.001,"m":-0.92},{"p":0.002,"m":-1.61},{"p":0.007,"m":-1.19},{"p":0.011,"m":-1.83},{"p":0.016,"m":-2.14},{"p":0.021,"m":-1.41},{"p":0.024,"m":-0.89},{"p":0.029,"m":-1.56},{"p":0.031,"m":-2.03},{"p":0.036,"m":-1.12},{"p":0.041,"m":-1.77},{"p":0.044,"m":-1.38},{"p":0.047,"m":-2.09},{"p":0.051,"m":-1.58},{"p":0.056,"m":-0.86},{"p":0.059,"m":-1.73},{"p":0.062,"m":-1.17},{"p":0.066,"m":-1.97},{"p":0.069,"m":-1.41},{"p":0.074,"m":-0.91},{"p":0.077,"m":-1.66},{"p":0.081,"m":-1.29},{"p":0.084,"m":-2.08},{"p":0.089,"m":-1.07},{"p":0.092,"m":-1.84},{"p":0.097,"m":-1.33},{"p":0.101,"m":-0.98},{"p":0.104,"m":-1.72},{"p":0.107,"m":-1.28},{"p":0.112,"m":-2.0},{"p":0.117,"m":-1.55},{"p":0.121,"m":-1.21},{"p":0.126,"m":-1.9},{"p":0.131,"m":-0.98},{"p":0.136,"m":-1.31},{"p":0.141,"m":-1.64},{"p":0.146,"m":-0.82},{"p":0.151,"m":-1.49},{"p":0.156,"m":-1.12},{"p":0.161,"m":-0.67},{"p":0.166,"m":-1.02},{"p":0.171,"m":-1.54},{"p":0.176,"m":-0.62},{"p":0.181,"m":-1.31},{"p":0.186,"m":-0.52},{"p":0.191,"m":-1.13},{"p":0.196,"m":-0.71},{"p":0.201,"m":-0.28},{"p":0.206,"m":-0.98},{"p":0.211,"m":-0.15},{"p":0.216,"m":-0.66},{"p":0.221,"m":0.05},{"p":0.226,"m":-0.44},{"p":0.231,"m":0.29},{"p":0.238,"m":0.4},{"p":0.244,"m":0.02},{"p":0.252,"m":0.58},{"p":0.26,"m":0.32},
{"p":0.122,"m":-1.62},{"p":0.125,"m":-1.05},{"p":0.128,"m":-1.78},{"p":0.13,"m":-1.3},{"p":0.133,"m":-0.82},{"p":0.135,"m":-1.5},{"p":0.138,"m":-1.72},{"p":0.14,"m":-1.12},{"p":0.143,"m":-0.7},{"p":0.145,"m":-1.42},{"p":0.148,"m":-1.6},{"p":0.15,"m":-0.95},{"p":0.153,"m":-1.25},{"p":0.155,"m":-0.62},{"p":0.158,"m":-1.5},{"p":0.16,"m":-1.08},{"p":0.163,"m":-0.8},{"p":0.165,"m":-1.35},{"p":0.168,"m":-0.55},{"p":0.17,"m":-1.2},{"p":0.173,"m":-0.9},{"p":0.175,"m":-1.4},{"p":0.178,"m":-0.45},{"p":0.18,"m":-1.05},{"p":0.183,"m":-0.72},{"p":0.185,"m":-1.25},{"p":0.188,"m":-0.35},{"p":0.19,"m":-0.88},{"p":0.193,"m":-0.55},{"p":0.195,"m":-1.0},{"p":0.198,"m":-0.2},{"p":0.2,"m":-0.7},{"p":0.203,"m":-0.4},{"p":0.205,"m":-0.85},{"p":0.208,"m":-0.05},{"p":0.21,"m":-0.55},{"p":0.213,"m":-0.25},{"p":0.215,"m":0.1},{"p":0.218,"m":-0.42},{"p":0.22,"m":0.22},{"p":0.223,"m":-0.1},{"p":0.225,"m":0.35},{"p":0.228,"m":-0.25},{"p":0.23,"m":0.05},{"p":0.233,"m":0.48},{"p":0.236,"m":0.18},{"p":0.24,"m":-0.12},{"p":0.243,"m":0.6},{"p":0.246,"m":0.3},{"p":0.25,"m":0.72},{"p":0.254,"m":0.1},{"p":0.258,"m":0.45},{"p":0.262,"m":0.82},{"p":0.266,"m":0.55},{"p":0.27,"m":0.25},{"p":0.275,"m":0.9},{"p":0.28,"m":0.68},
{"p":0.483,"m":2.78},{"p":0.49,"m":2.88},{"p":0.505,"m":2.7},{"p":0.517,"m":2.85},{"p":0.52,"m":2.92},{"p":0.552,"m":3.0},{"p":0.56,"m":3.15},{"p":0.57,"m":3.05},{"p":0.575,"m":2.62},{"p":0.582,"m":2.75},{"p":0.59,"m":3.18},{"p":0.595,"m":3.0},{"p":0.6,"m":2.9},{"p":0.61,"m":2.7},{"p":0.615,"m":2.95},{"p":0.622,"m":2.8},{"p":0.63,"m":2.97}
],
"cyan":[
{"p":-0.509,"m":2.62},{"p":0.482,"m":2.6},
{"p":-0.24,"m":1.85},{"p":-0.235,"m":1.6},{"p":-0.232,"m":1.4},{"p":-0.228,"m":1.75},{"p":-0.225,"m":1.2},{"p":-0.222,"m":1.5},{"p":-0.218,"m":1.05},{"p":-0.215,"m":1.3},{"p":-0.212,"m":0.9},{"p":-0.208,"m":1.15},{"p":-0.205,"m":0.78},{"p":-0.2,"m":1.0},{"p":-0.198,"m":0.62},{"p":-0.195,"m":0.85},{"p":-0.19,"m":0.45},{"p":-0.187,"m":0.7},{"p":-0.183,"m":0.3},{"p":-0.18,"m":0.55},{"p":-0.176,"m":0.15},{"p":-0.172,"m":0.38},{"p":-0.168,"m":-0.02},{"p":-0.165,"m":0.2},{"p":-0.16,"m":-0.25},{"p":-0.157,"m":-0.05},{"p":-0.153,"m":-0.55},{"p":-0.15,"m":-0.35},{"p":-0.146,"m":-0.85},{"p":-0.143,"m":-0.65},{"p":-0.14,"m":-1.2},{"p":-0.137,"m":-0.98},{"p":-0.134,"m":-1.5},{"p":-0.131,"m":-1.3},{"p":-0.127,"m":-1.8},{"p":-0.124,"m":-1.6},{"p":-0.12,"m":-2.1},{"p":-0.117,"m":-1.9},{"p":-0.113,"m":-2.4},{"p":-0.11,"m":-2.2},{"p":-0.107,"m":-2.72},{"p":-0.104,"m":-2.5},{"p":-0.1,"m":-2.95},{"p":-0.097,"m":-2.78},{"p":-0.092,"m":-3.15},{"p":-0.088,"m":-3.3},{"p":-0.084,"m":-3.1},{"p":-0.08,"m":-3.48},{"p":-0.075,"m":-3.35},{"p":-0.07,"m":-3.65},{"p":-0.066,"m":-3.5},{"p":-0.061,"m":-3.85},{"p":-0.057,"m":-3.7},{"p":-0.052,"m":-4.0},{"p":-0.048,"m":-3.85},{"p":-0.044,"m":-4.18},{"p":-0.04,"m":-4.05},{"p":-0.038,"m":-4.35},{"p":-0.034,"m":-4.2},{"p":-0.03,"m":-4.42},{"p":-0.026,"m":-4.28},{"p":-0.022,"m":-4.45},{"p":-0.018,"m":-4.32},{"p":-0.014,"m":-4.4},{"p":-0.01,"m":-4.25},{"p":-0.006,"m":-4.45},{"p":-0.002,"m":-4.3},{"p":0.002,"m":-4.42},{"p":0.006,"m":-4.2},{"p":0.01,"m":-4.35},{"p":0.015,"m":-4.15},
{"p":-0.02,"m":-3.95},{"p":-0.01,"m":-3.8},{"p":0.0,"m":-4.0},{"p":0.01,"m":-3.85},{"p":0.02,"m":-3.6},{"p":0.025,"m":-3.45},{"p":0.03,"m":-3.3},{"p":0.035,"m":-3.5},{"p":0.04,"m":-3.2},{"p":0.045,"m":-3.35},{"p":0.05,"m":-3.15},{"p":0.047,"m":-2.67},{"p":0.055,"m":-3.0},{"p":-0.015,"m":-3.4},{"p":-0.005,"m":-3.6}
],
"green":[
{"p":-0.618,"m":0.55},{"p":-0.616,"m":0.85},{"p":-0.619,"m":1.12},{"p":-0.615,"m":1.4},{"p":-0.617,"m":1.65},{"p":-0.61,"m":0.62},{"p":-0.608,"m":0.95},{"p":-0.611,"m":1.25},{"p":-0.607,"m":1.52},{"p":-0.609,"m":0.78},{"p":-0.601,"m":0.7},{"p":-0.599,"m":1.02},{"p":-0.602,"m":1.32},{"p":-0.598,"m":1.6},{"p":-0.6,"m":1.18},{"p":-0.592,"m":0.85},{"p":-0.59,"m":1.15},{"p":-0.593,"m":1.42},{"p":-0.589,"m":1.7},{"p":-0.591,"m":1.0},{"p":-0.583,"m":0.95},{"p":-0.581,"m":1.25},{"p":-0.584,"m":1.52},{"p":-0.58,"m":1.78},{"p":-0.582,"m":1.38},{"p":-0.574,"m":1.1},{"p":-0.572,"m":1.38},{"p":-0.575,"m":1.62},{"p":-0.571,"m":1.88},{"p":-0.573,"m":1.25},{"p":-0.565,"m":1.22},{"p":-0.563,"m":1.48},{"p":-0.566,"m":1.72},{"p":-0.562,"m":1.95},{"p":-0.564,"m":1.6},{"p":-0.556,"m":1.35},{"p":-0.554,"m":1.6},{"p":-0.557,"m":1.82},{"p":-0.553,"m":2.02},{"p":-0.555,"m":1.48},{"p":-0.547,"m":1.45},{"p":-0.545,"m":1.7},{"p":-0.548,"m":1.92},{"p":-0.544,"m":2.08},{"p":-0.546,"m":1.58},{"p":-0.538,"m":1.55},{"p":-0.536,"m":1.8},{"p":-0.539,"m":1.98},{"p":-0.535,"m":2.15},{"p":-0.537,"m":1.68},{"p":-0.529,"m":1.65},{"p":-0.527,"m":1.88},{"p":-0.53,"m":2.05},{"p":-0.526,"m":2.2},{"p":-0.52,"m":1.75},{"p":-0.518,"m":1.95},{"p":-0.521,"m":2.12},{"p":-0.517,"m":2.28},{"p":-0.511,"m":1.82},{"p":-0.509,"m":2.02},{"p":-0.512,"m":2.2},{"p":-0.508,"m":2.35},{"p":-0.502,"m":1.9},{"p":-0.5,"m":2.1},{"p":-0.503,"m":2.25},{"p":-0.499,"m":2.45},{"p":-0.493,"m":1.95},{"p":-0.491,"m":2.18},{"p":-0.494,"m":2.32},{"p":-0.484,"m":2.02},{"p":-0.482,"m":2.25},{"p":-0.485,"m":2.5},{"p":-0.475,"m":2.12},{"p":-0.473,"m":2.35},{"p":-0.476,"m":2.55},{"p":-0.466,"m":2.2},{"p":-0.464,"m":2.48},{"p":-0.455,"m":2.25},{"p":-0.445,"m":2.22},
{"p":-0.613,"m":0.98},{"p":-0.604,"m":1.42},{"p":-0.596,"m":0.92},{"p":-0.587,"m":1.28},{"p":-0.578,"m":1.55},{"p":-0.569,"m":1.42},{"p":-0.56,"m":1.72},{"p":-0.551,"m":1.66},{"p":-0.542,"m":1.86},{"p":-0.533,"m":1.92},{"p":-0.524,"m":2.0},{"p":-0.515,"m":2.1},{"p":-0.506,"m":2.15},{"p":-0.497,"m":2.25},{"p":-0.488,"m":2.38},{"p":-0.479,"m":2.42},{"p":-0.47,"m":2.32},
{"p":-0.33,"m":2.42},{"p":-0.295,"m":2.42},
{"p":-0.229,"m":2.2},{"p":-0.222,"m":1.8},{"p":-0.215,"m":1.55},{"p":-0.21,"m":2.05},{"p":-0.19,"m":1.78},{"p":-0.185,"m":1.35},{"p":-0.178,"m":1.1},{"p":-0.167,"m":0.98},{"p":-0.172,"m":0.72},{"p":-0.16,"m":0.5},
{"p":-0.168,"m":0.42},{"p":-0.162,"m":0.55},{"p":-0.158,"m":0.2},{"p":-0.152,"m":0.08},{"p":-0.155,"m":-0.15},{"p":-0.148,"m":-0.05},{"p":-0.145,"m":-0.42},{"p":-0.138,"m":-0.3},{"p":-0.141,"m":-0.72},{"p":-0.132,"m":-0.6},{"p":-0.125,"m":-0.78},{"p":-0.136,"m":-1.05},{"p":-0.128,"m":-0.95},{"p":-0.118,"m":-1.1},{"p":-0.131,"m":-1.35},{"p":-0.122,"m":-1.25},{"p":-0.11,"m":-1.4},{"p":-0.126,"m":-1.62},{"p":-0.115,"m":-1.55},{"p":-0.102,"m":-1.7},{"p":-0.12,"m":-1.92},{"p":-0.108,"m":-1.85},{"p":-0.09,"m":-1.95},{"p":-0.115,"m":-2.2},{"p":-0.1,"m":-2.15},{"p":-0.085,"m":-2.3},{"p":-0.108,"m":-2.5},{"p":-0.094,"m":-2.45},{"p":-0.078,"m":-2.55},{"p":-0.102,"m":-2.78},{"p":-0.088,"m":-2.72},{"p":-0.07,"m":-2.85},{"p":-0.095,"m":-3.02},{"p":-0.08,"m":-3.05},{"p":-0.065,"m":-3.1},{"p":-0.086,"m":-3.28},{"p":-0.072,"m":-3.3},{"p":-0.058,"m":-3.35},{"p":-0.074,"m":-3.52},{"p":-0.062,"m":-3.55},{"p":-0.048,"m":-3.58},{"p":-0.064,"m":-3.75},{"p":-0.052,"m":-3.8},{"p":-0.04,"m":-3.75},{"p":-0.056,"m":-3.98},{"p":-0.044,"m":-4.02},{"p":-0.03,"m":-3.95},{"p":-0.046,"m":-4.2},{"p":-0.035,"m":-4.15},{"p":-0.02,"m":-4.12},{"p":-0.026,"m":-4.28},{"p":-0.012,"m":-4.2},{"p":-0.005,"m":-4.05},{"p":0.002,"m":-4.25},{"p":0.008,"m":-3.9},{"p":0.012,"m":-4.15},{"p":-0.015,"m":-3.85},{"p":-0.025,"m":-3.7},{"p":0.018,"m":-4.3},{"p":0.022,"m":-4.05},{"p":0.026,"m":-3.8},{"p":0.03,"m":-4.2},{"p":0.034,"m":-3.95},{"p":0.038,"m":-4.25},{"p":0.042,"m":-3.7},{"p":0.046,"m":-4.05},{"p":0.05,"m":-4.18},{"p":0.054,"m":-3.85},{"p":0.058,"m":-4.1},{"p":0.062,"m":-3.6},{"p":0.066,"m":-3.95},{"p":0.07,"m":-4.12},{"p":0.074,"m":-3.75},{"p":0.078,"m":-3.45},{"p":0.082,"m":-3.98},{"p":0.086,"m":-3.6},{"p":0.09,"m":-3.85},{"p":0.094,"m":-3.25},{"p":0.098,"m":-3.7},
{"p":-0.067,"m":-3.22},{"p":-0.054,"m":-3.66},{"p":-0.043,"m":-3.88},{"p":-0.033,"m":-4.06},{"p":-0.018,"m":-4.25},{"p":-0.008,"m":-4.32},{"p":0.005,"m":-4.12},{"p":0.015,"m":-4.0},{"p":0.028,"m":-4.1},{"p":0.041,"m":-4.14},{"p":0.053,"m":-4.02},{"p":0.064,"m":-4.05},{"p":0.077,"m":-3.92},{"p":0.088,"m":-3.95},{"p":0.096,"m":-3.82},{"p":-0.111,"m":-2.05},{"p":-0.104,"m":-2.62},{"p":-0.097,"m":-2.9},{"p":-0.119,"m":-1.72},{"p":-0.127,"m":-1.28},{"p":-0.134,"m":-0.88},{"p":-0.142,"m":-0.5},{"p":-0.15,"m":-0.22},
{"p":0.103,"m":-3.94},{"p":0.106,"m":-3.41},{"p":0.101,"m":-3.29},{"p":0.104,"m":-3.73},{"p":0.111,"m":-3.52},{"p":0.11,"m":-3.04},{"p":0.111,"m":-3.76},{"p":0.115,"m":-3.35},{"p":0.118,"m":-2.77},{"p":0.119,"m":-3.75},{"p":0.116,"m":-3.09},{"p":0.123,"m":-2.84},{"p":0.128,"m":-3.53},{"p":0.123,"m":-3.06},{"p":0.127,"m":-2.68},{"p":0.136,"m":-3.48},{"p":0.131,"m":-3.03},{"p":0.128,"m":-2.71},{"p":0.141,"m":-3.24},{"p":0.14,"m":-2.92},{"p":0.135,"m":-2.42},{"p":0.145,"m":-3.53},{"p":0.148,"m":-2.87},{"p":0.143,"m":-2.32},{"p":0.146,"m":-3.06},{"p":0.153,"m":-2.79},{"p":0.152,"m":-2.2},{"p":0.153,"m":-3.22},{"p":0.157,"m":-2.54},{"p":0.16,"m":-2.06},{"p":0.161,"m":-3.2},{"p":0.158,"m":-2.62},{"p":0.165,"m":-2.15},{"p":0.17,"m":-2.92},{"p":0.165,"m":-2.59},{"p":0.169,"m":-1.93},{"p":0.178,"m":-2.91},{"p":0.173,"m":-2.23},{"p":0.17,"m":-1.88},{"p":0.183,"m":-2.83},{"p":0.182,"m":-2.66},{"p":0.177,"m":-1.67},{"p":0.187,"m":-2.82},{"p":0.19,"m":-2.17},{"p":0.185,"m":-1.83},{"p":0.188,"m":-2.54},{"p":0.195,"m":-2.12},{"p":0.194,"m":-1.41},{"p":0.195,"m":-2.64},{"p":0.199,"m":-2.2},{"p":0.202,"m":-1.6},{"p":0.203,"m":-2.44},{"p":0.2,"m":-1.86},{"p":0.207,"m":-1.45},{"p":0.212,"m":-2.25},{"p":0.207,"m":-1.95},{"p":0.211,"m":-1.26},{"p":0.22,"m":-2.39},{"p":0.215,"m":-1.7},{"p":0.212,"m":-1.28},{"p":0.225,"m":-2.03},{"p":0.224,"m":-1.63},{"p":0.219,"m":-1.08},{"p":0.229,"m":-2.19},{"p":0.232,"m":-1.41},{"p":0.227,"m":-1.09},{"p":0.23,"m":-1.95},{"p":0.237,"m":-1.55},{"p":0.236,"m":-0.87},{"p":0.237,"m":-1.92},{"p":0.241,"m":-1.16},{"p":0.244,"m":-0.97},{"p":0.245,"m":-1.73},{"p":0.242,"m":-1.34},{"p":0.249,"m":-0.74},{"p":0.254,"m":-1.59},{"p":0.249,"m":-1.13},{"p":0.253,"m":-0.55},{"p":0.262,"m":-1.65},{"p":0.257,"m":-0.94},{"p":0.254,"m":-0.69},{"p":0.267,"m":-1.46},{"p":0.266,"m":-0.94},{"p":0.261,"m":-0.36},{"p":0.271,"m":-1.38},{"p":0.274,"m":-0.71},{"p":0.269,"m":-0.49},{"p":0.272,"m":-1.14},{"p":0.279,"m":-0.72},{"p":0.278,"m":-0.25},{"p":0.279,"m":-1.25},{"p":0.283,"m":-0.47},{"p":0.286,"m":-0.2},{"p":0.287,"m":-0.88},{"p":0.284,"m":-0.54},{"p":0.291,"m":-0.03},{"p":0.296,"m":-1.04},{"p":0.291,"m":-0.34},{"p":0.295,"m":0.14},{"p":0.304,"m":-0.87},{"p":0.299,"m":-0.12},{"p":0.296,"m":0.02},{"p":0.309,"m":-0.66},{"p":0.308,"m":-0.29},{"p":0.303,"m":0.24},{"p":0.313,"m":-0.68},{"p":0.316,"m":0.07},{"p":0.311,"m":0.27},{"p":0.314,"m":-0.48},{"p":0.321,"m":-0.06},{"p":0.32,"m":0.49},{"p":0.321,"m":-0.52},{"p":0.325,"m":0.18},{"p":0.328,"m":0.32},{"p":0.329,"m":-0.3},{"p":0.326,"m":0.2},{"p":0.333,"m":0.69},{"p":0.338,"m":-0.37},{"p":0.333,"m":0.37},{"p":0.337,"m":0.5},{"p":0.346,"m":-0.19},{"p":0.341,"m":0.49},{"p":0.338,"m":0.65},{"p":0.351,"m":0.03},{"p":0.35,"m":0.38},{"p":0.345,"m":0.84},{"p":0.355,"m":-0.16},{"p":0.358,"m":0.57},{"p":0.353,"m":0.82},{"p":0.356,"m":0.17},{"p":0.363,"m":0.62},{"p":0.362,"m":1.02},{"p":0.363,"m":0.04},{"p":0.367,"m":0.83},{"p":0.37,"m":0.95},{"p":0.371,"m":0.28},{"p":0.368,"m":0.67},{"p":0.375,"m":1.18},{"p":0.38,"m":0.3},{"p":0.375,"m":1.02},{"p":0.379,"m":1.09},{"p":0.388,"m":0.45},{"p":0.383,"m":0.83},{"p":0.38,"m":1.26},{"p":0.393,"m":0.57},{"p":0.392,"m":0.97},{"p":0.387,"m":1.45},{"p":0.397,"m":0.45},{"p":0.4,"m":1.16},{"p":0.395,"m":1.26},{"p":0.398,"m":0.64},{"p":0.405,"m":1.12},{"p":0.404,"m":1.6},{"p":0.405,"m":0.67},{"p":0.409,"m":1.32},{"p":0.412,"m":1.44},{"p":0.413,"m":0.89},{"p":0.41,"m":1.25},{"p":0.417,"m":1.63},{"p":0.422,"m":0.72},{"p":0.417,"m":1.46},{"p":0.421,"m":1.66},{"p":0.43,"m":1.06},{"p":0.425,"m":1.36},{"p":0.422,"m":1.8},{"p":0.435,"m":0.88},{"p":0.434,"m":1.53},{"p":0.429,"m":1.89},{"p":0.439,"m":1.03},{"p":0.442,"m":1.71},{"p":0.437,"m":1.78},{"p":0.44,"m":1.21},{"p":0.447,"m":1.51},{"p":0.446,"m":1.94},{"p":0.447,"m":1.16},{"p":0.451,"m":1.82},{"p":0.454,"m":1.95},{"p":0.455,"m":1.37},{"p":0.452,"m":1.64},{"p":0.459,"m":2.16},{"p":0.464,"m":1.31},{"p":0.459,"m":1.85},{"p":0.463,"m":1.97},{"p":0.472,"m":1.53},{"p":0.467,"m":1.86},{"p":0.464,"m":2.29},{"p":0.477,"m":1.43},{"p":0.476,"m":1.97},{"p":0.471,"m":2.08},{"p":0.481,"m":1.59},{"p":0.484,"m":2.07},{"p":0.479,"m":2.2},{"p":0.482,"m":1.78},{"p":0.489,"m":1.92},{"p":0.488,"m":2.36},{"p":0.489,"m":1.58},{"p":0.493,"m":2.1},{"p":0.496,"m":2.29},{"p":0.497,"m":1.9},{"p":0.494,"m":2.09},{"p":0.501,"m":2.45},{"p":0.506,"m":1.74},{"p":0.501,"m":2.29},{"p":0.505,"m":2.35},{"p":0.514,"m":1.93},{"p":0.509,"m":2.09},{"p":0.506,"m":2.53},{"p":0.519,"m":1.93},{"p":0.518,"m":2.42},{"p":0.513,"m":2.41},{"p":0.523,"m":2.05},{"p":0.526,"m":2.2},{"p":0.521,"m":2.53},{"p":0.526,"m":2.14},{"p":0.533,"m":2.3},{"p":0.54,"m":2.23},{"p":0.535,"m":2.3},{"p":0.55,"m":2.21},{"p":0.545,"m":2.28},{"p":0.552,"m":2.26},
{"p":0.104,"m":-3.31},{"p":0.109,"m":-3.62},{"p":0.113,"m":-3.08},{"p":0.118,"m":-3.47},{"p":0.123,"m":-2.93},{"p":0.128,"m":-3.26},{"p":0.133,"m":-2.79},{"p":0.139,"m":-3.14},{"p":0.143,"m":-2.58},{"p":0.148,"m":-2.97},{"p":0.153,"m":-2.41},{"p":0.158,"m":-2.83},{"p":0.163,"m":-2.29},{"p":0.169,"m":-2.66},{"p":0.173,"m":-2.12},{"p":0.178,"m":-2.51},{"p":0.183,"m":-1.98},{"p":0.189,"m":-2.37},{"p":0.193,"m":-1.83},{"p":0.199,"m":-2.18},{"p":0.203,"m":-1.65},{"p":0.208,"m":-2.03},{"p":0.213,"m":-1.51},{"p":0.219,"m":-1.88},{"p":0.223,"m":-1.36},{"p":0.229,"m":-1.71},{"p":0.233,"m":-1.18},{"p":0.238,"m":-1.57},{"p":0.243,"m":-1.03},{"p":0.249,"m":-1.39},{"p":0.253,"m":-0.86},{"p":0.259,"m":-1.21},{"p":0.263,"m":-0.69},{"p":0.268,"m":-1.08},{"p":0.273,"m":-0.53},{"p":0.279,"m":-0.89},{"p":0.283,"m":-0.37},{"p":0.289,"m":-0.72},{"p":0.293,"m":-0.19},{"p":0.298,"m":-0.56},{"p":0.303,"m":-0.04},{"p":0.309,"m":-0.41},{"p":0.313,"m":0.12},{"p":0.319,"m":-0.24},{"p":0.323,"m":0.28},{"p":0.328,"m":-0.08},{"p":0.333,"m":0.41},{"p":0.339,"m":0.07},{"p":0.343,"m":0.56},{"p":0.349,"m":0.21},{"p":0.353,"m":0.68},{"p":0.358,"m":0.33},{"p":0.363,"m":0.81},{"p":0.369,"m":0.47},{"p":0.373,"m":0.93},{"p":0.379,"m":0.6},{"p":0.383,"m":1.06},{"p":0.388,"m":0.71},{"p":0.393,"m":1.17},{"p":0.399,"m":0.84},{"p":0.403,"m":1.29},{"p":0.409,"m":0.97},{"p":0.413,"m":1.39},{"p":0.418,"m":1.08},{"p":0.423,"m":1.51},{"p":0.429,"m":1.19},{"p":0.433,"m":1.62},{"p":0.439,"m":1.31},{"p":0.443,"m":1.71},{"p":0.448,"m":1.42},{"p":0.453,"m":1.83},{"p":0.459,"m":1.52},{"p":0.463,"m":1.91},{"p":0.469,"m":1.63},{"p":0.473,"m":2.01},{"p":0.478,"m":1.72},{"p":0.483,"m":2.09},{"p":0.489,"m":1.81},{"p":0.493,"m":2.16},{"p":0.499,"m":1.9},{"p":0.503,"m":2.24},{"p":0.508,"m":1.99},{"p":0.513,"m":2.31},{"p":0.519,"m":2.07},{"p":0.523,"m":2.36},{"p":0.529,"m":2.14},{"p":0.533,"m":2.42},{"p":0.539,"m":2.2},{"p":0.543,"m":2.47},{"p":0.55,"m":2.3},{"p":0.557,"m":2.42},{"p":0.535,"m":2.52},{"p":0.525,"m":1.88},{"p":0.505,"m":1.78}
]},
"layer":[
{"data":{"name":"spec"},
 "mark":{"type":"rule","color":"#808080","strokeWidth":1},
 "encoding":{
  "x":{"field":"p","type":"quantitative","scale":{"domain":[-0.617,0.633],"nice":false,"zero":false},
       "axis":{"orient":"top","values":[-0.6,-0.5,-0.4,-0.3,-0.2,-0.1,0,0.1,0.2,0.3,0.4,0.5,0.6],"labels":false,"tickSize":-6,"title":null,"domain":true}},
  "y":{"datum":-1,"type":"quantitative","scale":{"domain":[-5.2,4],"reverse":true,"nice":false,"zero":false},
       "axis":{"orient":"right","values":[-5,-4,-3,-2,-1,0,1,2,3,4],"labels":false,"tickSize":-6,"title":null,"domain":true}},
  "y2":{"datum":1},
  "strokeDash":{"datum":"Spectral obs.","type":"nominal","scale":{"domain":["Spectral obs."],"range":[[3,3]]},
       "legend":{"orient":"none","legendX":475.5,"legendY":53.7,"title":null,"symbolType":"stroke","symbolSize":2500,"symbolStrokeColor":"#808080","symbolStrokeWidth":1,"labelAlign":"right","labelOffset":-55.5,"labelFontSize":16,"labelFont":"Liberation Serif","labelColor":"black","labelLimit":300,"padding":0}}
 }},
{"data":{"name":"red"},
 "mark":{"type":"point","filled":false,"size":34,"strokeWidth":1,"opacity":0.75,"clip":true},
 "encoding":{
  "x":{"field":"p","type":"quantitative","scale":{"domain":[-0.617,0.633],"nice":false,"zero":false},
       "axis":{"orient":"bottom","values":[-0.6,-0.5,-0.4,-0.3,-0.2,-0.1,0,0.1,0.2,0.3,0.4,0.5,0.6],"labelExpr":"replace(format(datum.value,'~g'),'\u2212','-')","tickSize":-6,"labelPadding":10,"title":"phase","titleX":272.5,"titleY":44,"titleBaseline":"alphabetic","titleAlign":"center","domain":true}},
  "y":{"field":"m","type":"quantitative","scale":{"domain":[-5.2,4],"reverse":true,"nice":false,"zero":false},
       "axis":{"orient":"left","values":[-5,-4,-3,-2,-1,0,1,2,3,4],"labelExpr":"replace(format(datum.value,'~g'),'\u2212','-')","tickSize":-6,"labelPadding":10,"title":"Δmag","titleX":-33,"titleY":194,"titleAngle":-90,"titleBaseline":"middle","titleAlign":"center","domain":true}},
  "color":{"datum":"2000—2013","type":"nominal",
    "scale":{"domain":["2000—2013","1999,faint peak","2007,bright peak","2011,bright peak"],"range":["#ff0000","#0000ff","#00ffff","#00ff00"]},
    "legend":{"orient":"none","legendX":500.5,"legendY":5.7,"title":null,"symbolSize":30,"symbolStrokeWidth":1,"labelAlign":"right","labelOffset":-45.5,"labelFontSize":16,"labelFont":"Liberation Serif","labelColor":"black","labelLimit":300,"padding":0,"rowPadding":0}},
  "shape":{"datum":"2000—2013","type":"nominal",
    "scale":{"domain":["2000—2013","1999,faint peak","2007,bright peak","2011,bright peak"],"range":["M-1,0L1,0M0,-1L0,1","M-1,0L1,0M0,-1L0,1","circle","circle"]}}
 }},
{"data":{"name":"blue"},
 "mark":{"type":"point","filled":false,"size":34,"strokeWidth":1,"opacity":0.8,"clip":true},
 "encoding":{
  "x":{"field":"p","type":"quantitative","scale":{"domain":[-0.617,0.633],"nice":false,"zero":false},
       "axis":{"orient":"bottom","values":[-0.55,-0.45,-0.35,-0.25,-0.15,-0.05,0.05,0.15,0.25,0.35,0.45,0.55],"labels":false,"tickSize":-3,"title":null,"domain":false}},
  "y":{"field":"m","type":"quantitative","scale":{"domain":[-5.2,4],"reverse":true,"nice":false,"zero":false},
       "axis":{"orient":"left","values":[-4.5,-3.5,-2.5,-1.5,-0.5,0.5,1.5,2.5,3.5],"labels":false,"tickSize":-3,"title":null,"domain":false}},
  "color":{"datum":"1999,faint peak","type":"nominal"},
  "shape":{"datum":"1999,faint peak","type":"nominal"}
 }},
{"data":{"name":"cyan"},
 "mark":{"type":"point","filled":false,"size":30,"strokeWidth":1,"opacity":0.95,"clip":true},
 "encoding":{
  "x":{"field":"p","type":"quantitative","scale":{"domain":[-0.617,0.633],"nice":false,"zero":false},
       "axis":{"orient":"top","values":[-0.55,-0.45,-0.35,-0.25,-0.15,-0.05,0.05,0.15,0.25,0.35,0.45,0.55],"labels":false,"tickSize":-3,"title":null,"domain":false}},
  "y":{"field":"m","type":"quantitative","scale":{"domain":[-5.2,4],"reverse":true,"nice":false,"zero":false},
       "axis":{"orient":"right","values":[-4.5,-3.5,-2.5,-1.5,-0.5,0.5,1.5,2.5,3.5],"labels":false,"tickSize":-3,"title":null,"domain":false}},
  "color":{"datum":"2007,bright peak","type":"nominal"},
  "shape":{"datum":"2007,bright peak","type":"nominal"}
 }},
{"data":{"name":"green"},
 "mark":{"type":"point","filled":false,"size":30,"strokeWidth":1,"opacity":0.9,"clip":true},
 "encoding":{
  "x":{"field":"p","type":"quantitative","scale":{"domain":[-0.617,0.633],"nice":false,"zero":false},"axis":null},
  "y":{"field":"m","type":"quantitative","scale":{"domain":[-5.2,4],"reverse":true,"nice":false,"zero":false},"axis":null},
  "color":{"datum":"2011,bright peak","type":"nominal"},
  "shape":{"datum":"2011,bright peak","type":"nominal"}
 }}
]
}
